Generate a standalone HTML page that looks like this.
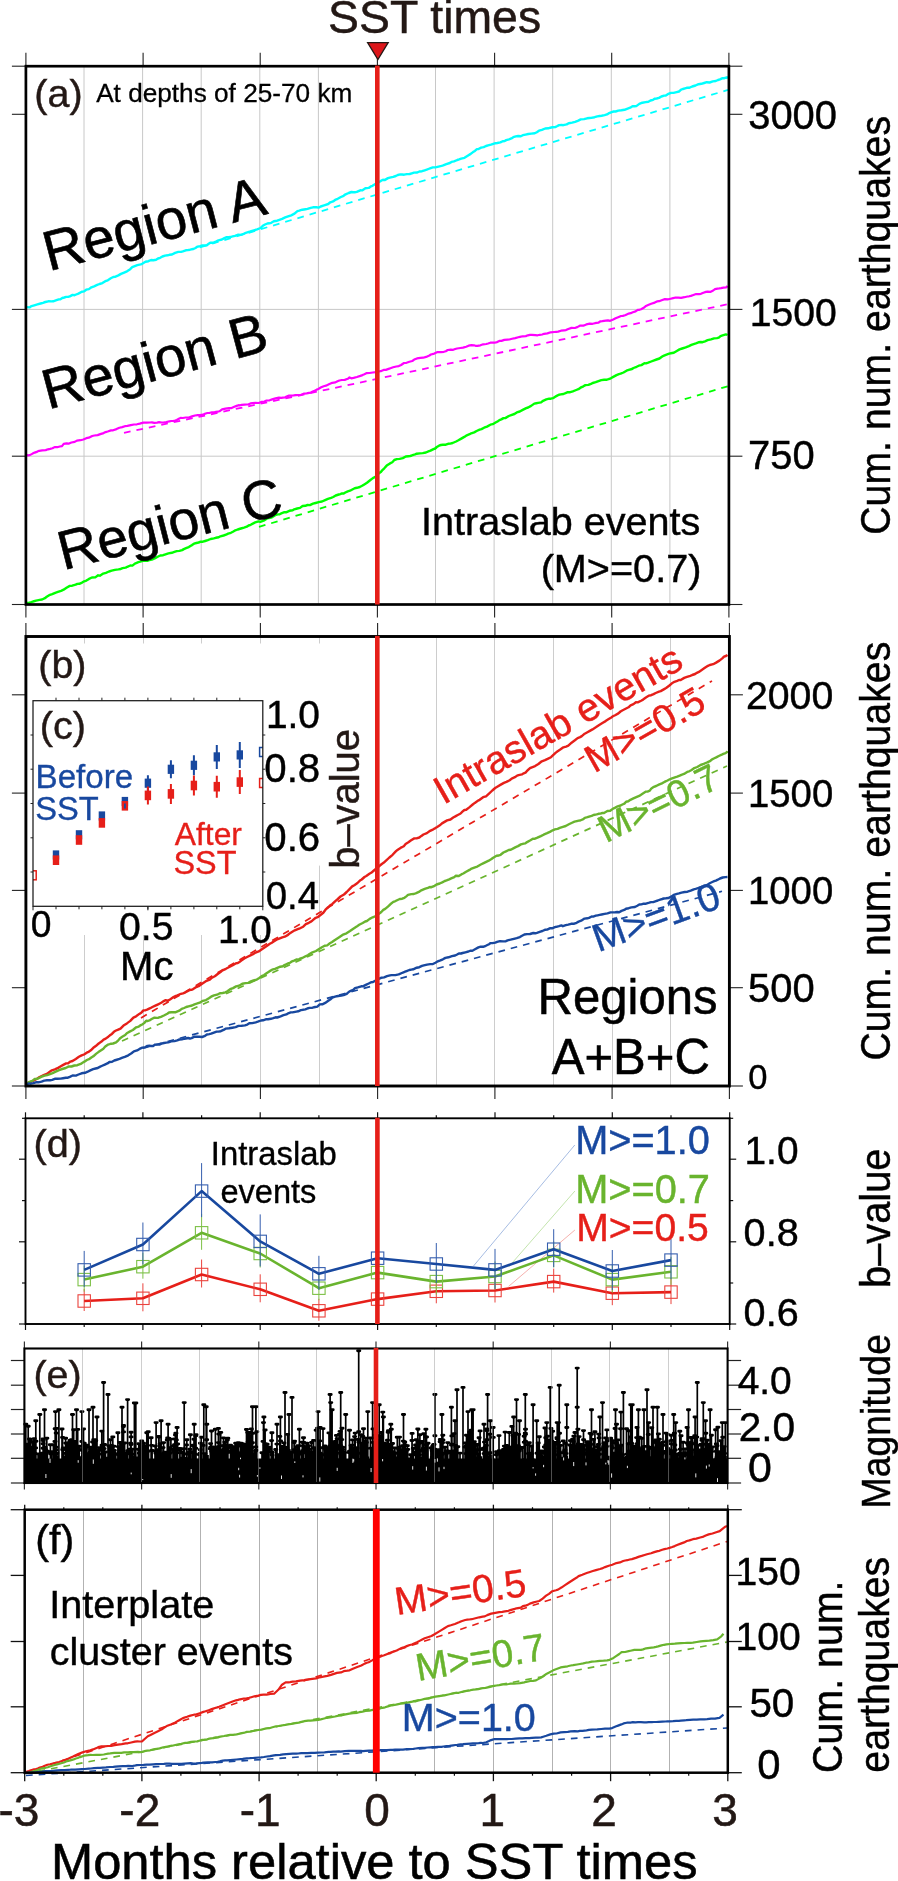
<!DOCTYPE html>
<html><head><meta charset="utf-8"><title>SST times figure</title>
<style>html,body{margin:0;padding:0;background:#fff}svg{display:block;will-change:transform}</style></head>
<body>
<svg width="898" height="1881" viewBox="0 0 898 1881" font-family='"Liberation Sans", sans-serif'>
<rect width="898" height="1881" fill="#fff"/>
<line x1="84" y1="66.2" x2="84" y2="604.5" stroke="#c8c8c8" stroke-width="1"/>
<line x1="142.6" y1="66.2" x2="142.6" y2="604.5" stroke="#c8c8c8" stroke-width="1"/>
<line x1="201.2" y1="66.2" x2="201.2" y2="604.5" stroke="#c8c8c8" stroke-width="1"/>
<line x1="259.8" y1="66.2" x2="259.8" y2="604.5" stroke="#c8c8c8" stroke-width="1"/>
<line x1="318.4" y1="66.2" x2="318.4" y2="604.5" stroke="#c8c8c8" stroke-width="1"/>
<line x1="435.5" y1="66.2" x2="435.5" y2="604.5" stroke="#c8c8c8" stroke-width="1"/>
<line x1="494.1" y1="66.2" x2="494.1" y2="604.5" stroke="#c8c8c8" stroke-width="1"/>
<line x1="552.7" y1="66.2" x2="552.7" y2="604.5" stroke="#c8c8c8" stroke-width="1"/>
<line x1="611.3" y1="66.2" x2="611.3" y2="604.5" stroke="#c8c8c8" stroke-width="1"/>
<line x1="669.9" y1="66.2" x2="669.9" y2="604.5" stroke="#c8c8c8" stroke-width="1"/>
<line x1="25.9" y1="309.4" x2="728.9" y2="309.4" stroke="#c8c8c8" stroke-width="1"/>
<line x1="25.9" y1="456.2" x2="728.9" y2="456.2" stroke="#c8c8c8" stroke-width="1"/>
<line x1="200" y1="247.3" x2="728" y2="89.9" stroke="#00ffff" stroke-width="1.8" stroke-dasharray="6.7 6"/>
<line x1="124" y1="432.8" x2="728" y2="304.1" stroke="#ff00ff" stroke-width="1.8" stroke-dasharray="6.7 6"/>
<line x1="259" y1="526.9" x2="728" y2="386.2" stroke="#00ff00" stroke-width="1.8" stroke-dasharray="6.7 6"/>
<polyline points="26.5,307.1 29.5,307.4 31.5,306.1 34.3,305.3 37.4,304.4 40.6,303.5 43,302.8 45.3,302 48.3,301.3 51.6,301.4 53.2,301.3 56.5,300.2 58.8,299.4 60.4,299.2 62.3,298 64.3,297.5 66.2,296.9 68.3,296.7 69.8,296.4 72.6,294.9 74.5,295.2 76.2,294.5 78.4,293.6 81.8,291.8 84.1,291.4 86.2,289.7 88.9,289.1 91.4,287.3 94.1,286.3 97.2,284.9 99.5,284 102.4,283.1 105.3,281.2 107.8,280.3 110.8,278.3 113.3,277 114.9,276.9 118.4,275.4 121,273.9 123.5,272.8 127,271.3 130.2,269.2 132.2,267.2 134.8,266.1 137.3,265.1 140.7,264.3 142.2,263.8 145.5,261.8 148.4,261.2 151.1,260 153.4,260.2 156.1,259.7 158,258.5 160.2,257.8 162.4,256.5 165.1,255.6 167.5,255.3 169.4,254.8 172,254.5 175.1,252.9 178.3,251.9 181.1,251.9 182.8,251.4 185.8,250.3 187.8,250.1 190,249.7 191.6,249.3 193.4,249 195.5,248 197.6,246.6 200.1,246.2 202.4,245.4 204.3,245.5 206.8,245.2 208.7,243.8 210.3,242.7 211.8,242.7 213.6,242.7 216.5,241.4 218.5,240.3 221.9,239.5 223.9,238.4 226.7,237.2 228.8,237.1 231.6,236.7 235,235.9 238.3,234.7 240.4,234.9 243.8,233.9 245.8,232.8 247.3,232.4 250.4,231.5 253.9,230.3 257.1,229.3 260.5,228 262.8,225.8 265,224.5 267.4,223.5 269.2,223.3 271.3,222.8 273.8,221.3 277.1,220.7 278.7,220.1 282.1,218.9 285.2,217.4 288.1,216.4 291.2,215.3 294.5,213.7 297.4,211.1 299.3,210.6 302.3,209.7 305.6,209.2 307.5,208.9 310.7,207.8 313,207.3 316.2,207.2 318.9,207.6 320.7,206.5 323.3,205.6 324.9,205.1 328.2,204 330.3,202.3 333.1,201.4 335.7,199.6 337.7,198.8 340.9,197 343.6,195.8 345.6,194.3 348.7,193 351.5,192 353.2,192.2 354.8,192.2 356.8,191.9 358.5,191.1 360.3,190.3 362.1,190.4 365.4,188.2 368.7,187.9 370.8,186.4 372.5,185.8 375.3,184 378.7,182.2 380.8,180.9 383,179.8 384.6,180.1 388,178.1 389.8,177.6 393.2,176.8 395.8,176 397.8,175 400.4,174.4 402.1,174.5 404.1,174.7 406.9,174.1 409.7,174 411.8,173.3 414,172.6 417.3,172.5 419.4,171.5 422,171.2 424.7,170.3 426.7,169.7 428.4,169 430,168.4 432.8,167.4 435.3,167.4 438.5,166.6 441.6,165.9 443.2,165.4 446.3,164.1 449.8,163 451.5,161.9 454,161.4 457.3,160 459.1,159.4 461.2,158.6 464.5,157.8 467.7,155.7 470.7,153.9 473,152.1 474.9,150.9 476.9,149.1 478.5,149 481.1,147.6 483.7,147.1 486,146 488.1,145.4 490.9,144.7 493.3,143.9 495.5,143.2 497.3,143 500.4,142.4 502.7,141.2 504.7,141 506.2,140.1 509,139.3 511.4,138.4 513.3,137.2 515.8,136.4 518.2,136 520.8,136.3 522.8,135.2 525.6,134.6 528.2,134 531.4,133.6 534.7,133.3 536.8,132.2 539,130.7 541.9,129.9 545.2,128.5 548.4,128.3 550.3,127.7 552.3,127.3 555.3,127.1 556.9,126.3 559.1,125.1 561.6,124.9 563.2,125.2 566.7,124.4 568.7,123.2 572.1,122.6 575.1,121.8 578.3,120.6 580.7,119.4 584,119.1 587.1,118.3 589.5,118 591.2,117.9 594.6,117.2 597.3,116.4 599.6,116 601.6,115.7 604.6,115.1 607,114.4 608.5,113.4 611.7,112.1 613.6,111.5 615.6,111.5 618.3,110.6 621.4,110.3 624.5,109.8 627,108.8 630.2,107.7 632.5,106.3 634.5,106.3 636.3,106.1 639.3,103.9 642.3,102.7 645.7,102.1 648.4,101.7 650.5,100.5 653.1,99.8 654.6,98.8 656.7,98.5 659,97.9 661.4,96.5 664.2,95.6 665.8,95.5 667.8,94.2 671,92.9 673.5,92.9 676.7,92.1 679,91.5 681.1,89.7 682.9,89 685.1,88.3 686.7,87.8 689,87.8 692.2,86.5 695.5,85.5 698.5,84.2 701.3,83.8 704.1,83 706.8,82.2 709.6,82.5 712.8,81.4 715.8,81 718,80 720,79.4 722.6,78.1 724.4,78.2 726.9,77.3 727.5,78.8" fill="none" stroke="#00ffff" stroke-width="2.4" stroke-linejoin="round"/>
<polyline points="26.5,455.1 28.1,455.3 29.8,455.1 32.6,453.6 34.7,452.6 37.4,451.6 39.2,450.8 42.2,450.4 45.7,450.1 48,449.3 50.1,448.9 52.5,448.3 54.6,447.1 57.2,447.2 59.8,446.5 62,446.1 63.7,443.9 66.6,443.3 68.5,443.7 71.4,442.5 74.7,441.9 76.9,440.6 80.4,440.2 83.4,439.5 86.3,438.2 88.8,437.7 92.2,436 94.4,435.5 97.6,435.1 100.3,434.1 103.6,433.1 105.6,432.1 107.7,431.5 111,430.4 113.1,430.3 116.5,429.1 119.4,427.8 122.2,427.1 124.9,426.2 127.4,425.9 130.8,425.1 133.9,424.5 136.9,424.3 139.8,423.6 141.5,423.1 143.4,422.6 146.7,422.6 149.9,422.5 151.9,422.4 154.2,422.8 157.1,422.6 159,422.2 161.8,422.5 163.4,422.5 166.3,422.1 169.5,421.3 171.3,421 173.6,420.9 175.1,420.6 176.7,420 178.9,418.8 180.6,417.9 182.8,418 185.8,417.5 188.8,417.5 192,416.4 195,415.5 197.8,415.1 199.9,415.1 203.2,414.7 204.9,413.8 207.4,413 209.2,413 211.9,412.3 214.3,412.3 216.1,411.9 217.7,411.7 219.4,411.3 222.1,409.3 225.5,408.6 229,408.1 231,408.2 233.7,407 236.6,405.9 238.6,405.2 240.1,405.3 241.7,404.9 244.6,404.6 246.6,404.5 248.6,404.3 250.5,403.4 252.6,403 255.4,402.8 258.8,403 261.8,401.8 264.5,401.5 266.1,400.6 267.9,400.5 269.6,400.3 272.2,399.4 275.5,398.4 279,397.6 281.2,397.9 282.9,397.6 285,397.5 286.6,396.5 289,395.6 290.9,395.6 293.6,395.4 295.8,395.1 299.2,395 301.1,394.8 303.7,393.7 306.7,393.4 309,392.9 310.7,392.6 313.9,391.1 316.7,389.6 318.3,389 321.2,387.3 323.7,386.2 326.8,385.4 328.9,384.2 332.3,382.8 335.4,382.4 337.5,381.3 339.4,380.5 341.8,380 344.7,379.9 347.8,378.8 349.5,377.4 351.3,378.3 353.6,377.9 356.9,377 360.4,375.9 362.5,375.1 364.4,374.3 366.8,373.1 369.4,373 372.8,372.5 375.8,372.1 378.7,371.5 380.7,371.2 383.6,369.9 385.9,369.9 388.6,368.9 390.4,368.2 393.1,367.3 396.3,366.5 398.8,366.1 401.1,365 404,363 406.5,362.8 409.4,361.8 412.3,361 414.2,359.6 417,358.4 420.4,357.9 423.2,357.7 426.1,356.9 429.4,355.5 430.9,354.5 434.3,353.6 437.6,352.1 440.9,352.1 443.9,351.8 445.8,351.2 447.7,350 450.8,349.7 453.2,349.8 455.2,349 457.1,348.5 460.5,348 463,347.6 466.2,346.7 468.6,345.7 471.5,345.2 474,345.3 475.5,345.8 477.4,345.8 480.4,345.3 483.2,344.3 486.3,344 488.1,343.5 490.4,342.7 491.9,342.6 494.5,342.7 497.1,342.1 499.4,340.9 501.5,340.9 504.3,339.9 507.6,339.6 509.3,339.5 512.1,338.8 515.2,338.1 518.3,337.3 520,336.9 522.6,336.3 525.8,336.1 527.9,335.3 529.9,334.9 531.9,334.8 535.3,335.1 537.6,335.3 539.8,334.8 542.2,334.5 544.1,333.8 547.4,333.4 550.7,332.3 554.1,332 556.2,331.8 558.1,331.6 561,330.7 564.1,330.3 566,330.1 568.3,329 571.5,327.9 574.8,328 577.3,327.1 580.3,325.5 583.3,325.7 586.3,324.4 589.8,323.7 592.6,323.8 594.9,323.2 598.3,322.7 600.5,321.3 602.3,321.2 605.8,320.7 608,320.4 610.2,320.8 613.2,319.5 615.6,318.2 618.8,316.9 621,316 622.8,315.9 625,315.2 626.7,314.4 628.7,313.6 630.7,313.2 632.8,312.3 635.6,311.4 637.7,309.9 639.4,309.8 641.1,309.2 644.2,307.5 646,305.9 648.1,305 651.2,303.7 654.7,302.6 657,301.4 659.1,301.2 662.3,300 664.9,299.1 668.3,299.3 670.7,298.7 673.1,298.1 674.8,297.7 678.3,297.7 681.1,297.8 684.4,297.2 687.5,296.5 689.1,296.3 690.9,295.9 692.7,295.2 696.1,294 698.9,294.2 700.9,293.8 703.4,292.7 705.9,291.9 707.5,291.7 710.7,291.8 713.2,290.5 715,289.1 717.5,288.6 719.2,288.4 721.1,288.1 723.4,287.6 726.1,287.5 727.5,286" fill="none" stroke="#ff00ff" stroke-width="2.2" stroke-linejoin="round"/>
<polyline points="26.5,603 28.7,603 31.4,602.1 33,601.5 36.1,600.6 39.6,599.9 42.1,599.5 44.9,598.2 46.7,596.8 49.2,595.2 52.2,594.1 55.2,592.8 57.9,591.9 61.1,590.8 63.6,589.7 66.5,587.7 69.8,585.9 72.2,585.7 75.6,584.7 77.4,583.9 79.3,583.8 82.1,582.6 84.2,581.3 86.4,580.6 89,578.9 91.9,577.5 95.3,577.4 98.1,575.3 99.9,575.7 103.2,573.6 105.9,572.8 109,571.5 111.7,570.7 114.9,569.9 118.4,569.4 120.7,569 122.5,568.1 125.7,567.6 127.3,566.8 130.3,565.5 132.4,565.6 134.9,563.6 138.4,562.2 141.1,561.4 142.7,560.9 145.4,560.5 147.2,560.8 149.4,560.2 152.8,559.3 155.2,558.1 157.7,556.8 160.3,555.5 163.1,555.2 165.5,554.3 168.4,553.4 171.8,552.8 174.4,551.9 176.7,551.1 179.4,550.9 182.1,550.1 183.8,549.1 186.6,547.9 188.8,547.1 190.4,546 192,545.1 194,543.7 196.4,543 198.6,542.5 200.8,541.7 202.9,541.7 205.1,541 207.8,540.1 210.7,539 213.8,538.3 215.8,537.8 218.7,537.2 220.4,536.3 223.6,535.5 226,534.7 228.1,533.6 230.9,532.8 232.9,531.7 234.6,530.7 237.7,529.5 240.9,528.5 244,527.6 246.8,526.7 248.6,525.5 250.7,524.8 252.8,523.6 255.2,522.4 258.5,521.4 260.3,521.9 263.6,520.7 267.1,518.4 270.4,517.8 272.4,517.1 275.2,515.2 277.7,514.4 279.7,514.2 281.3,513.4 284.4,512.2 286,512.3 289.4,510.8 292.7,510.2 294.2,509.3 297.2,508.5 300,507.9 302.6,506 305.3,505.8 307.5,505 309.9,505.1 313,503.7 315.6,503 318.7,502.1 322,501.5 325.1,500.1 327.9,498.9 331.1,497.9 333.2,497 335.7,495.5 338.8,494.5 340.3,494.1 342,493.4 343.7,493.5 345.3,492.5 347.8,491.3 350,490.7 352.8,489.2 354.7,488.2 356.9,487.8 359.8,487 362.1,485.8 364.3,484.4 367,482.7 370.1,480.2 372.9,478.1 375.4,476.8 378.3,473.8 380.7,472.1 382.7,469.8 384.3,468.3 386.7,465.6 390,463.4 392.3,462.2 394.3,460 396.8,459.1 399.6,458.9 402.8,458.1 405.8,456.5 408.4,456.2 410,456.1 411.7,455.5 413.4,454.8 415.1,454.4 416.7,453.7 419.9,453.4 422.7,453.1 425.9,452.5 429,451.2 430.5,450.6 433.5,449.1 435.2,448.5 436.8,447 439,445.7 440.9,445 442.8,444.7 445.8,444.7 448.1,443.8 450.3,443.6 452.6,443 456.1,441.5 458.4,440.3 461.3,438.6 464.3,436.9 466.8,435.3 469.6,434.2 471.2,433.3 474.2,432.4 476.6,431 479.6,429.7 481.5,429.1 484.1,427.7 487,426.6 490.4,424.7 492.7,424.2 496,422.3 497.9,421.2 499.4,420.1 501.3,419.4 503.5,418.1 505.3,418.1 508.8,416 511.2,415.1 514.4,414 516.8,412.4 519.8,411.5 522.7,409.9 526.2,408.2 528.1,407.5 531.1,405.9 534.3,403.6 536.3,403.2 538.1,402.9 541.1,402.4 543.1,400.8 546.3,399.4 549.2,398.7 550.9,398.7 553,398.2 555.2,396.8 556.7,395.9 558.9,394.7 560.8,394.4 563.5,394 566.1,392.9 567.8,392.2 569.5,392.3 572.8,391.3 576.2,390 578.4,389.2 580.5,387.7 583.4,386.3 585.4,385.1 588.4,384.9 591,383.9 592.7,383 595.7,382.2 598.5,381.1 601.3,380.1 604.1,379.7 606.9,379.7 608.6,379.2 610.8,378.3 613.7,376.6 616.5,375.1 618.9,374.1 620.6,373.7 623.5,372.5 626.5,370.7 628.7,369.9 632,369 633.5,368 636.6,366.8 638.8,365.7 641.4,365.1 644.4,363.3 646.1,363.4 648.2,362.7 651.2,361.5 654.2,360.3 656.5,359.5 659.5,358.5 662.2,356.5 664,355.6 666.5,354.7 669.2,353.7 672.2,353 673.8,352.7 677.2,350.7 679.5,349.4 682.2,348.5 685.7,347.4 688.9,346.1 691.4,344.9 692.9,344.3 695.9,343.3 698.5,342.3 700.9,342 702.5,342.2 705,341.3 707.6,340.2 711,339.4 714.1,338.4 716.9,338.1 718.8,337.6 720.5,336.1 722.6,335.4 725.9,334.4 727.5,335" fill="none" stroke="#00ff00" stroke-width="2.4" stroke-linejoin="round"/>
<line x1="25.9" y1="66.2" x2="25.9" y2="52.7" stroke="#222" stroke-width="1.1"/>
<line x1="25.9" y1="604.5" x2="25.9" y2="617.5" stroke="#222" stroke-width="1.1"/>
<line x1="143.1" y1="66.2" x2="143.1" y2="52.7" stroke="#222" stroke-width="1.1"/>
<line x1="143.1" y1="604.5" x2="143.1" y2="617.5" stroke="#222" stroke-width="1.1"/>
<line x1="260.2" y1="66.2" x2="260.2" y2="52.7" stroke="#222" stroke-width="1.1"/>
<line x1="260.2" y1="604.5" x2="260.2" y2="617.5" stroke="#222" stroke-width="1.1"/>
<line x1="377.4" y1="66.2" x2="377.4" y2="52.7" stroke="#222" stroke-width="1.1"/>
<line x1="377.4" y1="604.5" x2="377.4" y2="617.5" stroke="#222" stroke-width="1.1"/>
<line x1="494.6" y1="66.2" x2="494.6" y2="52.7" stroke="#222" stroke-width="1.1"/>
<line x1="494.6" y1="604.5" x2="494.6" y2="617.5" stroke="#222" stroke-width="1.1"/>
<line x1="611.7" y1="66.2" x2="611.7" y2="52.7" stroke="#222" stroke-width="1.1"/>
<line x1="611.7" y1="604.5" x2="611.7" y2="617.5" stroke="#222" stroke-width="1.1"/>
<line x1="728.9" y1="66.2" x2="728.9" y2="52.7" stroke="#222" stroke-width="1.1"/>
<line x1="728.9" y1="604.5" x2="728.9" y2="617.5" stroke="#222" stroke-width="1.1"/>
<line x1="25.9" y1="66.2" x2="11.9" y2="66.2" stroke="#222" stroke-width="1.1"/>
<line x1="728.9" y1="66.2" x2="742.4" y2="66.2" stroke="#222" stroke-width="1.1"/>
<line x1="25.9" y1="114.3" x2="11.9" y2="114.3" stroke="#222" stroke-width="1.1"/>
<line x1="728.9" y1="114.3" x2="742.4" y2="114.3" stroke="#222" stroke-width="1.1"/>
<line x1="25.9" y1="309.4" x2="11.9" y2="309.4" stroke="#222" stroke-width="1.1"/>
<line x1="728.9" y1="309.4" x2="742.4" y2="309.4" stroke="#222" stroke-width="1.1"/>
<line x1="25.9" y1="456.2" x2="11.9" y2="456.2" stroke="#222" stroke-width="1.1"/>
<line x1="728.9" y1="456.2" x2="742.4" y2="456.2" stroke="#222" stroke-width="1.1"/>
<line x1="25.9" y1="604.5" x2="11.9" y2="604.5" stroke="#222" stroke-width="1.1"/>
<line x1="728.9" y1="604.5" x2="742.4" y2="604.5" stroke="#222" stroke-width="1.1"/>
<rect x="25.9" y="66.2" width="703" height="538.3" fill="none" stroke="#000" stroke-width="2.7"/>
<rect x="375" y="65.6" width="4.6" height="538.9" fill="#e61f19"/>
<polygon points="367.6,42.6 388.2,42.6 377.9,59.6" fill="#dc161a" stroke="#231815" stroke-width="1.3" stroke-linejoin="miter"/>
<text transform="translate(330.2 33.4)" x="-2.09" y="0" font-size="46.36" fill="#231815" stroke="#231815" stroke-width="0.51">SST times</text>
<text transform="translate(36.7 107.3)" x="-2.47" y="0" font-size="39.55" fill="#231815" stroke="#231815" stroke-width="0.43">(a)</text>
<text transform="translate(96.2 101.7)" x="-0.07" y="0" font-size="26.20" fill="#000" stroke="#000" stroke-width="0.29">At depths of 25-70 km</text>
<text transform="translate(53.2 270) rotate(-14.65)" x="-4.63" y="0" font-size="56.10" fill="#000" stroke="#000" stroke-width="0.62">Region A</text>
<text transform="translate(52.5 408.2) rotate(-15.00)" x="-4.63" y="0" font-size="56.10" fill="#000" stroke="#000" stroke-width="0.62">Region B</text>
<text transform="translate(67.6 569.1) rotate(-14.30)" x="-4.54" y="0" font-size="54.98" fill="#000" stroke="#000" stroke-width="0.60">Region C</text>
<text transform="translate(424.6 534.9)" x="-3.66" y="0" font-size="39.60" fill="#000" stroke="#000" stroke-width="0.44">Intraslab events</text>
<text transform="translate(543.1 582.2)" x="-2.48" y="0" font-size="39.64" fill="#000" stroke="#000" stroke-width="0.44">(M&gt;=0.7)</text>
<text transform="translate(749.7 129.4)" x="-1.50" y="0" font-size="39.91" fill="#000" stroke="#000" stroke-width="0.44">3000</text>
<text transform="translate(752.7 325.8)" x="-2.94" y="0" font-size="39.19" fill="#000" stroke="#000" stroke-width="0.43">1500</text>
<text transform="translate(750.1 469.2)" x="-2.00" y="0" font-size="39.94" fill="#000" stroke="#000" stroke-width="0.44">750</text>
<text transform="translate(890.4 532.8) rotate(-90.00) scale(1 1.07)" x="-1.96" y="0" font-size="39.26" fill="#000" stroke="#000" stroke-width="0.43">Cum. num. earthquakes</text>
<line x1="84.5" y1="636.5" x2="84.5" y2="1086" stroke="#cdcdcd" stroke-width="1"/>
<line x1="143.5" y1="636.5" x2="143.5" y2="1086" stroke="#cdcdcd" stroke-width="1"/>
<line x1="201.5" y1="636.5" x2="201.5" y2="1086" stroke="#cdcdcd" stroke-width="1"/>
<line x1="260.5" y1="636.5" x2="260.5" y2="1086" stroke="#cdcdcd" stroke-width="1"/>
<line x1="319.5" y1="636.5" x2="319.5" y2="1086" stroke="#cdcdcd" stroke-width="1"/>
<line x1="436.5" y1="636.5" x2="436.5" y2="1086" stroke="#cdcdcd" stroke-width="1"/>
<line x1="494.5" y1="636.5" x2="494.5" y2="1086" stroke="#cdcdcd" stroke-width="1"/>
<line x1="553.5" y1="636.5" x2="553.5" y2="1086" stroke="#cdcdcd" stroke-width="1"/>
<line x1="612.5" y1="636.5" x2="612.5" y2="1086" stroke="#cdcdcd" stroke-width="1"/>
<line x1="670.5" y1="636.5" x2="670.5" y2="1086" stroke="#cdcdcd" stroke-width="1"/>
<line x1="141" y1="1018" x2="712" y2="680.9" stroke="#e61f19" stroke-width="1.7" stroke-dasharray="6.7 6"/>
<line x1="122" y1="1041.1" x2="727" y2="766.1" stroke="#69b42e" stroke-width="1.7" stroke-dasharray="6.7 6"/>
<line x1="143" y1="1048.2" x2="722" y2="891.3" stroke="#18489f" stroke-width="1.7" stroke-dasharray="6.7 6"/>
<polyline points="26.5,1083.4 28.8,1082.5 30.6,1081.9 33.9,1080.4 37,1078.7 39.6,1077 41.7,1076 43.6,1075.2 46.9,1073.9 50.1,1071.5 51.9,1070.3 54.9,1069.4 58.1,1067.9 60.8,1066.3 63.7,1064.6 66.1,1063.4 67.8,1063.4 70.4,1061.6 72.5,1061 75.8,1058.9 78.9,1056.8 81.6,1055.4 84,1054.5 87.1,1052.4 88.7,1051.8 90.8,1050.3 93.3,1047.8 96.8,1045.2 98.7,1043.5 101.5,1041.6 103.6,1039.6 105.7,1038.6 108.3,1036.7 109.9,1035.3 111.9,1033.9 113.9,1031.8 116,1030.5 117.6,1029.9 120.5,1028.6 123.5,1025.6 126.9,1023.4 130.3,1020.9 133.4,1017.6 136.1,1016.3 139.3,1013.9 141.6,1012.4 143.4,1010.4 145.6,1010.2 147.1,1009.7 150.2,1008.2 152.4,1007 155.9,1005.4 158.2,1004.3 159.8,1003.5 161.7,1002.5 163.2,1001.4 165.7,1000.2 167.5,1000.9 170,999.5 173.5,997.1 176,995.8 177.5,995.4 179.9,994.2 183,993.4 185.5,992.3 187.5,991.2 189.4,990.1 191.2,989.9 192.8,989.3 196.3,987 198.6,986.2 201.7,984 204.7,982 206.6,980.8 209.8,979.7 212,977.7 214.8,976.3 218,973.8 220.5,972 222.5,970.4 225.9,968.8 229.3,967 232.8,965.1 236.1,963.2 237.8,963 239.4,962 241.3,960.6 244.3,958.5 247.6,956.8 251,955.1 252.5,954.5 255.6,952.6 258.7,951.4 261.9,949.2 263.8,947.9 267.1,945.7 270.2,943.5 271.7,942.9 273.3,941.7 276.5,939.7 279.2,938.6 282.3,937.3 284.8,936.7 288,934.9 289.6,933.4 292.7,931.5 294.8,930.3 298.3,928.9 300,928.3 303.2,926.7 305.8,924.2 308.8,922.8 310.4,921.9 312.5,920.4 315.7,917.8 317.6,917.2 320.8,914.7 323.3,912.7 325.5,909.7 328.4,907 329.9,905.5 332.4,903.9 335.3,901.1 337.3,899.5 340.5,896.5 344,894.5 346.7,892 348.8,889.9 352.2,886.4 354.3,885.2 357.5,883 359.9,880.6 361.7,879.5 364.5,877 366.3,876 369.4,873.8 371.2,872.8 373.9,870.5 376.1,868.7 378.4,866.7 381.8,864 383.9,862.6 386,860.7 389.4,857.5 392.6,854.8 396,851.1 397.8,849.7 400.5,847.9 403.8,846.2 405.6,844 408.4,842.3 411.1,840.3 414.3,838.4 416.6,838.4 419.3,837.5 421.4,835.9 423.4,834.5 426.9,833.1 430.1,830.8 433.3,829.3 435.4,828.1 437.2,827 439.8,825.3 442,823.4 445.4,821.4 447.1,820.4 450.5,819.5 453.2,817.5 455.3,816.4 457.3,815.2 460.6,813.5 462.4,811.7 464.4,810 466.2,809.8 469.3,807.4 472.7,804.5 474.8,802.9 476.5,801.7 478,800.6 479.7,799.8 483.1,797.2 486,796.3 489,793.6 492.3,790.5 495.2,788 498.1,786.2 500.8,784.6 503.9,782.9 506.4,781.9 509.7,780.2 511.7,778.6 514.9,777.2 517.1,775.6 518.6,775.1 521.9,774.4 523.7,773.3 525.5,772.6 527.4,770.5 530,768.2 531.9,767.3 535.1,766.1 538.4,764 541.8,761.3 545,760.1 547.6,758.9 551,757.2 553.1,755.2 555.8,752.6 557.3,751.5 560.6,749.3 563.4,747.3 566.1,746.6 568.3,745.7 571.6,742.7 574.9,740.3 577.6,738.1 580.1,737.1 581.8,736.1 584.7,733.7 587.4,732.2 589.4,731.1 592.5,729.4 595.8,727.3 599.2,725 602.4,723 605.6,721.1 608.3,719.3 611.3,717.4 612.9,716.3 615.1,715.2 618.4,713.4 620.5,711.5 622.7,710.2 625.1,709 628.5,707.3 630.6,705.3 633.5,704.1 635.9,702.2 637.7,702.4 641.1,700.7 643.1,699.6 645.9,697.6 649.1,695.6 651.1,695.2 653.6,694.1 655.7,693 659,691.6 660.7,691.1 664.2,689.1 666.1,688 669.4,685.5 671.9,683.3 673.7,682.2 677.2,680.9 679,680 680.7,680 684.2,677.9 687,676.9 690.3,675.8 692.2,675 695.1,674 696.9,672.8 698.9,671.9 701,670.5 704.5,668.1 708,665.8 709.8,665 713.2,664.2 716.1,662.6 719.4,660.6 722.3,658.4 724,656.7 725.9,656 727.5,654.9" fill="none" stroke="#e61f19" stroke-width="2.4" stroke-linejoin="round"/>
<polyline points="26.5,1084 29.6,1081.8 33,1080.5 34.5,1079 37,1078.9 40.3,1077.4 42,1076.5 44.6,1075.7 47.2,1075.1 49.3,1074.4 52.6,1073.1 55.7,1071.6 57.5,1070.8 59,1070.1 62.2,1069 65.7,1068 68.9,1066.4 71.5,1066.5 74.4,1065.5 77.3,1065.2 80.7,1063.9 82.9,1062.5 84.8,1061.4 86.9,1060 89.6,1058.8 91.7,1057.2 93.9,1055.9 96,1053.9 98.4,1052.1 101.9,1049.7 103.4,1048.7 105,1046.8 108.1,1044.6 109.6,1044.2 111.2,1043.7 113.1,1043.5 116.1,1042.4 118.3,1040.3 120.5,1037.9 122.2,1036.7 125.2,1035 126.8,1033.2 130.1,1031.4 132.9,1030 136.2,1027.3 138.8,1026.6 140.9,1025.1 142.6,1024.2 144.4,1022.9 146.2,1020.8 147.8,1021 150.1,1020.1 152.1,1018.8 154.5,1017.6 156.8,1017.9 158.4,1017.7 160.9,1016.8 163.9,1015.5 167.3,1013.7 169,1012.5 171.3,1012.3 173.4,1012.3 175.8,1012.2 179.3,1010.7 181.7,1008.9 184.1,1008 186.2,1007 188.5,1006.3 192,1005.5 194.5,1004.3 196.6,1003.7 199.7,1002.7 202.9,1000.8 206,1000.1 208.9,998.3 211.1,996.7 214,995.4 217.1,994.7 219.9,993.2 222.7,993 225.4,992.4 227.4,991.3 230.2,989.2 233,988.1 236.1,986.4 239.1,985.7 242.3,983.7 245.5,983.1 248.4,982.9 250.9,981.4 253.5,980.5 256.8,979.6 259.3,978 262.3,975.8 264.1,975 266.9,973 269.3,971.4 272.1,969.7 275,968.8 277.4,967.8 280.2,966.7 282.9,966.2 284.5,965.1 286.1,964.4 287.9,963.5 289.8,962.9 291.4,961.7 294.1,960.6 296.8,959.4 298.3,959.7 300.6,958.4 302.3,958 305.5,956.3 308.2,955 309.9,953.7 312.5,952.3 316,951 319.1,949 321.9,947.2 324.6,945.8 327.2,945.4 329.9,943.3 332.1,942 333.8,940.8 336.5,939 339.2,937.2 342.5,934.9 344.4,934.1 346.5,933.3 350,931.1 353.3,928.8 356.7,926.6 359.2,924.8 362.7,923 365.2,921.5 366.9,921 369.7,918.9 372.7,917.3 375.9,916 377.9,914.6 381.3,912 383.3,909.9 385.2,908.9 387.9,906.6 390.3,904.3 393.3,901.9 395,901.3 397.6,900 399.8,899 402.2,898.7 404.4,897.8 406,896.6 408,894.9 411.3,894.1 413.9,894 416.2,893.1 418.9,891.9 421.3,890.3 424.7,888.8 427.9,887.9 429.8,887 431.4,887.2 434.6,885.8 436.6,884.5 439.7,883.5 442.2,882.4 444.8,881 446.6,880.4 449.2,879.4 451.2,878.4 454.3,877.1 455.9,875.7 458.8,876 461.7,874.2 463.3,873.5 466.1,871.7 469.5,869.9 471.6,868.6 475,867.3 477.3,866.6 479.1,865.5 480.8,864.5 483.1,863.4 485.7,862.1 488.7,860.7 491.1,859.3 493.2,857.7 496.6,855.8 498.8,855.5 500.6,854.8 503.4,852.5 506,851.3 508.7,850 510.8,849.7 513.8,848.1 515.7,847.1 518,846.1 520.9,844.4 523.7,843.7 525.4,843.3 527.1,842.1 530.4,840.3 532.9,838.8 534.4,838.9 537.4,837.7 540.8,836.1 543.6,834.7 547.1,833.2 549.9,831.9 552.7,830.3 554.9,829.4 557.6,828.8 559.8,827.8 562.9,826.8 565.7,826 568.9,824.3 571.5,823 574.5,821.7 576.8,821.1 578.7,820.6 580.2,820.5 583.3,819.2 584.8,817.8 587.5,817.2 589.9,816.3 591.7,815.9 593.5,815 596.7,814.4 598.5,813.8 600.4,813.6 602.4,813 604,813 607.4,811 610.2,810.8 613.1,808.6 614.8,807.9 617.7,806.3 620.6,805.5 622.4,804.5 624.4,803.6 626.1,801.7 628.3,801.3 630.4,799.8 633.4,798.4 636.3,797.1 639.2,795.9 642.5,793.8 646,791.6 647.5,791.6 649.8,790.6 651.4,788.4 653.9,786.8 656.1,786 659.4,784.4 661.9,783.4 663.9,782.3 665.5,781.4 667.5,780.5 669.8,779.3 671.4,778.7 674.9,777.3 677.2,776.6 679.7,775.6 681.4,774.8 684,773.9 687.2,771.9 689.2,771.3 691.6,770 694.3,768.1 697.2,767 700.6,765 703.7,763.9 705.7,763 707.3,762.3 710.4,760.8 712.1,759.4 713.8,758.5 716.2,757.4 718.8,756 721.7,754.7 723.3,753.9 725.6,753.1 727.3,751.8 727.5,751.2" fill="none" stroke="#69b42e" stroke-width="2.4" stroke-linejoin="round"/>
<polyline points="26.5,1084.5 29,1083.4 31,1083.7 33.4,1083.2 36.5,1082.1 38.5,1082.3 41.6,1081.6 44.2,1080.6 47,1080.3 50.2,1080.2 52.2,1079.9 55.4,1078.6 57.5,1078.8 60.7,1078.6 63,1078.2 65.8,1077.7 67.9,1077.7 69.8,1076.9 72.6,1075.5 75.9,1075.6 78.5,1074.5 81.6,1073.3 85,1072.8 87.7,1071.7 89.8,1070.6 93.1,1069.1 95.6,1068.5 97.8,1068 99.7,1066.9 101.6,1066 104.8,1064.6 107.9,1063.2 109.4,1062 112.1,1061.7 114.3,1060.5 116,1060 119.5,1058.9 122.5,1057.7 124.8,1056.9 128.3,1055.3 131.5,1053.3 133.9,1051.4 137.1,1050.4 139.5,1048.9 142.4,1047.6 145.4,1047.1 147.5,1045.9 149.3,1045.8 150.9,1046 153.1,1046 155.1,1044.6 157.1,1044.6 159.4,1044.6 161.5,1043.7 163.9,1043 166.2,1042.6 168.3,1042.4 171.1,1041.4 174.5,1041.1 177.2,1040.3 179.4,1039.5 182.5,1039.2 185.8,1038.5 188.2,1038 189.9,1038.5 191.6,1038.1 194.5,1036.7 197.7,1036.8 199.4,1036.7 202.1,1037 204.4,1036.2 206.9,1034.5 209.3,1034.1 211.1,1033.7 213.9,1032.6 216.6,1031.6 218.3,1031.6 220.8,1031.2 224.1,1029.7 225.8,1028.6 229,1028.3 232.3,1027.7 235.6,1027.1 238.5,1025.9 241.6,1025.7 244.9,1025.4 247.3,1024.6 249.3,1023.3 252.3,1023.1 255.7,1022.3 257.8,1021.7 261,1020.5 263.1,1020.3 266.4,1019.1 268,1019.3 270.8,1018.8 273.3,1018.1 275.6,1017.3 277.2,1017.5 280.6,1016.3 283.5,1015.2 286.4,1014.4 288.2,1013.3 290.7,1012.4 292.3,1012.4 293.9,1012.1 296.4,1011.6 298.2,1011.3 300.9,1010.2 302.8,1009.8 305.4,1009.4 307.3,1008.5 309.4,1007.9 312.5,1007.7 315.1,1007 317.4,1006.6 319.7,1004.4 322.3,1004.3 325.2,1002.9 328.3,1000.8 330.5,999.3 332.3,997.6 335.1,996.6 336.7,996.3 339.7,995.7 341.4,995.5 343.6,995.1 346.7,993.9 348.7,992 350.7,990.8 353.2,989.8 355,988.2 357.8,987.4 361.3,986.3 362.9,986.4 365.8,984.9 368.7,983.5 371.1,982.2 373,982.1 376.1,980.2 378,979.2 381.1,977.8 384.1,977.4 387,976.2 390,975.4 391.6,975.1 393.8,975.1 395.4,975.1 398.7,974.4 401.9,973 403.5,972.3 405.1,971.7 406.6,971.1 409.3,970 411.3,969.6 413.2,969.3 416.7,967.7 419.3,967.2 422,965.9 423.8,965.4 427.1,964.6 430.2,964.1 432.9,964 435.4,962.7 437.1,961.7 440.4,960.4 442.9,959.3 445.4,957.9 448.5,957.3 451.9,956.2 455.1,955.5 457.1,954.5 458.9,953.4 461.1,953.5 462.6,953 465.4,952.3 468.4,951.5 470.7,950.6 472.4,950.7 475,949.3 478.4,947.4 480.8,946.6 483.1,946.8 485.8,945.8 489,944.2 490.6,943.1 492.4,943.1 495.3,942.6 497.1,941.9 500,941.1 503.1,941.4 505.9,941.2 507.6,940.4 510.6,939.7 513.9,938.8 516.7,938.1 519.9,937.1 521.6,936 524.4,934.5 527,934.1 530,934 533.3,933 535.3,933.3 536.9,932.8 540.4,931.6 542.4,931 545.4,929.7 547.1,929.6 550.3,928.1 552.1,928.3 554.9,927.1 556.4,926.8 559,926.2 561.4,925.4 562.9,926.2 565.8,925.2 568.2,924.6 571.1,923.8 574.2,923.7 576.6,922.8 578.6,921.6 581.2,920.7 584.5,918.6 587.4,918.3 589,917.9 591.7,916.5 593.2,916.6 595.8,915.7 597.7,915.3 599.6,914.9 601.7,914.5 604.6,913.9 607.5,913.4 610.5,912.4 613.2,912.4 615.4,912.3 617.3,912 619.2,912.2 621.5,910.9 624.3,909.9 626,908.7 628.7,908.2 631.4,907.4 634.9,907 637.3,905.7 639.3,904.5 641.4,904.4 643.7,903.7 646,903.7 649.3,902.7 651.1,902.1 653.2,902.1 656,901.1 657.8,900.5 660.2,899.6 662.2,899 663.7,898.5 666,898.3 668.6,898 671.6,896.4 673.7,894.9 677,893.9 679,893.4 681.5,892.6 684.7,892 687.5,891.7 690.7,890.6 693.8,889.3 695.6,888.9 698.1,888.2 699.7,887.4 701.5,887 703.2,886.6 705.3,885.7 707.7,884.5 710.2,883 712.3,882 714.2,881.2 715.9,880.6 717.8,879.7 720,878.5 722.7,877.5 725.4,877.1 727.5,877" fill="none" stroke="#18489f" stroke-width="2.4" stroke-linejoin="round"/>
<rect x="27.3" y="643.5" width="245" height="291.5" fill="#fff"/>
<rect x="272" y="643.5" width="100" height="222.1" fill="#fff"/>
<line x1="56" y1="700.7" x2="56" y2="697.7" stroke="#222" stroke-width="1.0"/>
<line x1="56" y1="906.3" x2="56" y2="909.3" stroke="#222" stroke-width="1.0"/>
<line x1="79" y1="700.7" x2="79" y2="697.7" stroke="#222" stroke-width="1.0"/>
<line x1="79" y1="906.3" x2="79" y2="909.3" stroke="#222" stroke-width="1.0"/>
<line x1="101.9" y1="700.7" x2="101.9" y2="697.7" stroke="#222" stroke-width="1.0"/>
<line x1="101.9" y1="906.3" x2="101.9" y2="909.3" stroke="#222" stroke-width="1.0"/>
<line x1="124.9" y1="700.7" x2="124.9" y2="697.7" stroke="#222" stroke-width="1.0"/>
<line x1="124.9" y1="906.3" x2="124.9" y2="909.3" stroke="#222" stroke-width="1.0"/>
<line x1="147.9" y1="700.7" x2="147.9" y2="697.7" stroke="#222" stroke-width="1.0"/>
<line x1="147.9" y1="906.3" x2="147.9" y2="909.3" stroke="#222" stroke-width="1.0"/>
<line x1="170.9" y1="700.7" x2="170.9" y2="697.7" stroke="#222" stroke-width="1.0"/>
<line x1="170.9" y1="906.3" x2="170.9" y2="909.3" stroke="#222" stroke-width="1.0"/>
<line x1="193.9" y1="700.7" x2="193.9" y2="697.7" stroke="#222" stroke-width="1.0"/>
<line x1="193.9" y1="906.3" x2="193.9" y2="909.3" stroke="#222" stroke-width="1.0"/>
<line x1="216.8" y1="700.7" x2="216.8" y2="697.7" stroke="#222" stroke-width="1.0"/>
<line x1="216.8" y1="906.3" x2="216.8" y2="909.3" stroke="#222" stroke-width="1.0"/>
<line x1="239.8" y1="700.7" x2="239.8" y2="697.7" stroke="#222" stroke-width="1.0"/>
<line x1="239.8" y1="906.3" x2="239.8" y2="909.3" stroke="#222" stroke-width="1.0"/>
<line x1="33" y1="735" x2="30.5" y2="735" stroke="#222" stroke-width="1.0"/>
<line x1="262.8" y1="735" x2="265.3" y2="735" stroke="#222" stroke-width="1.0"/>
<line x1="33" y1="769.2" x2="30.5" y2="769.2" stroke="#222" stroke-width="1.0"/>
<line x1="262.8" y1="769.2" x2="265.3" y2="769.2" stroke="#222" stroke-width="1.0"/>
<line x1="33" y1="803.5" x2="30.5" y2="803.5" stroke="#222" stroke-width="1.0"/>
<line x1="262.8" y1="803.5" x2="265.3" y2="803.5" stroke="#222" stroke-width="1.0"/>
<line x1="33" y1="837.8" x2="30.5" y2="837.8" stroke="#222" stroke-width="1.0"/>
<line x1="262.8" y1="837.8" x2="265.3" y2="837.8" stroke="#222" stroke-width="1.0"/>
<line x1="33" y1="872" x2="30.5" y2="872" stroke="#222" stroke-width="1.0"/>
<line x1="262.8" y1="872" x2="265.3" y2="872" stroke="#222" stroke-width="1.0"/>
<line x1="262.8" y1="906.3" x2="262.8" y2="910.3" stroke="#222" stroke-width="1.0"/>
<line x1="33" y1="906.3" x2="33" y2="910.3" stroke="#222" stroke-width="1.0"/>
<line x1="147.9" y1="906.3" x2="147.9" y2="910.3" stroke="#222" stroke-width="1.0"/>
<clipPath id="ci"><rect x="33" y="700.7" width="229.8" height="205.6"/></clipPath>
<g clip-path="url(#ci)">
<rect x="29.8" y="870.8" width="6.4" height="9" fill="none" stroke="#e61f19" stroke-width="1.5"/>
<rect x="52.8" y="850.4" width="6.4" height="9.2" fill="#18489f"/>
<rect x="52.8" y="855.4" width="6.4" height="9.6" fill="#e61f19"/>
<rect x="75.8" y="830.2" width="6.4" height="9.2" fill="#18489f"/>
<rect x="75.8" y="835.2" width="6.4" height="9.6" fill="#e61f19"/>
<rect x="98.7" y="811.4" width="6.4" height="9.2" fill="#18489f"/>
<rect x="98.7" y="818.1" width="6.4" height="9.6" fill="#e61f19"/>
<rect x="121.7" y="796.9" width="6.4" height="9.2" fill="#18489f"/>
<rect x="121.7" y="801" width="6.4" height="9.6" fill="#e61f19"/>
<line x1="147.9" y1="775.2" x2="147.9" y2="791.2" stroke="#18489f" stroke-width="2"/>
<rect x="144.7" y="778.6" width="6.4" height="9.2" fill="#18489f"/>
<line x1="147.9" y1="786.4" x2="147.9" y2="804.4" stroke="#e61f19" stroke-width="2"/>
<rect x="144.7" y="790.6" width="6.4" height="9.6" fill="#e61f19"/>
<line x1="170.9" y1="760.3" x2="170.9" y2="778.3" stroke="#18489f" stroke-width="2"/>
<rect x="167.7" y="764.7" width="6.4" height="9.2" fill="#18489f"/>
<line x1="170.9" y1="783.9" x2="170.9" y2="803.9" stroke="#e61f19" stroke-width="2"/>
<rect x="167.7" y="789.1" width="6.4" height="9.6" fill="#e61f19"/>
<line x1="193.9" y1="755.3" x2="193.9" y2="775.3" stroke="#18489f" stroke-width="2"/>
<rect x="190.7" y="760.7" width="6.4" height="9.2" fill="#18489f"/>
<line x1="193.9" y1="775.5" x2="193.9" y2="795.5" stroke="#e61f19" stroke-width="2"/>
<rect x="190.7" y="780.7" width="6.4" height="9.6" fill="#e61f19"/>
<line x1="216.8" y1="744.9" x2="216.8" y2="768.9" stroke="#18489f" stroke-width="2"/>
<rect x="213.6" y="752.3" width="6.4" height="9.2" fill="#18489f"/>
<line x1="216.8" y1="775.7" x2="216.8" y2="797.7" stroke="#e61f19" stroke-width="2"/>
<rect x="213.6" y="781.9" width="6.4" height="9.6" fill="#e61f19"/>
<line x1="239.8" y1="741.9" x2="239.8" y2="767.9" stroke="#18489f" stroke-width="2"/>
<rect x="236.6" y="750.3" width="6.4" height="9.2" fill="#18489f"/>
<line x1="239.8" y1="770.1" x2="239.8" y2="794.1" stroke="#e61f19" stroke-width="2"/>
<rect x="236.6" y="777.3" width="6.4" height="9.6" fill="#e61f19"/>
<rect x="259.6" y="747.5" width="6.4" height="9" fill="none" stroke="#18489f" stroke-width="1.5"/>
<rect x="259.6" y="778.5" width="6.4" height="9" fill="none" stroke="#e61f19" stroke-width="1.5"/>
<line x1="124.9" y1="803.5" x2="124.9" y2="808.5" stroke="#18489f" stroke-width="1.8"/>
</g>
<rect x="33" y="700.7" width="229.8" height="205.6" fill="none" stroke="#1a1a1a" stroke-width="1.25"/>
<text transform="translate(42.3 738.7)" x="-2.48" y="0" font-size="39.62" fill="#231815" stroke="#231815" stroke-width="0.44">(c)</text>
<text transform="translate(38.3 787.5)" x="-2.73" y="0" font-size="33.12" fill="#18489f" stroke="#18489f" stroke-width="0.36">Before</text>
<text transform="translate(36.7 819.7)" x="-1.47" y="0" font-size="32.65" fill="#18489f" stroke="#18489f" stroke-width="0.36">SST</text>
<text transform="translate(174.9 844.9)" x="-0.08" y="0" font-size="31.79" fill="#e61f19" stroke="#e61f19" stroke-width="0.35">After</text>
<text transform="translate(174.9 873.8)" x="-1.46" y="0" font-size="32.38" fill="#e61f19" stroke="#e61f19" stroke-width="0.36">SST</text>
<text transform="translate(32.3 936.9)" x="-1.49" y="0" font-size="37.28" fill="#000" stroke="#000" stroke-width="0.41">0</text>
<text transform="translate(120.6 940.4)" x="-1.57" y="0" font-size="39.16" fill="#000" stroke="#000" stroke-width="0.43">0.5</text>
<text transform="translate(220.8 942.8)" x="-2.90" y="0" font-size="38.67" fill="#000" stroke="#000" stroke-width="0.43">1.0</text>
<text transform="translate(123.4 980.1)" x="-3.31" y="0" font-size="40.08" fill="#000" stroke="#000" stroke-width="0.44">Mc</text>
<text transform="translate(268.8 727.5)" x="-2.92" y="0" font-size="38.90" fill="#000" stroke="#000" stroke-width="0.43">1.0</text>
<text transform="translate(265.9 781.8)" x="-1.61" y="0" font-size="40.23" fill="#000" stroke="#000" stroke-width="0.44">0.8</text>
<text transform="translate(265.9 851)" x="-1.61" y="0" font-size="40.23" fill="#000" stroke="#000" stroke-width="0.44">0.6</text>
<text transform="translate(267.3 909)" x="-1.53" y="0" font-size="38.34" fill="#000" stroke="#000" stroke-width="0.42">0.4</text>
<text transform="translate(358.6 866.2) rotate(-90.00)" x="-2.59" y="0" font-size="39.88" fill="#231815" stroke="#231815" stroke-width="0.44">b–value</text>
<line x1="25.9" y1="636.5" x2="25.9" y2="623" stroke="#222" stroke-width="1.1"/>
<line x1="25.9" y1="1086" x2="25.9" y2="1099" stroke="#222" stroke-width="1.1"/>
<line x1="143.2" y1="636.5" x2="143.2" y2="623" stroke="#222" stroke-width="1.1"/>
<line x1="143.2" y1="1086" x2="143.2" y2="1099" stroke="#222" stroke-width="1.1"/>
<line x1="260.4" y1="636.5" x2="260.4" y2="623" stroke="#222" stroke-width="1.1"/>
<line x1="260.4" y1="1086" x2="260.4" y2="1099" stroke="#222" stroke-width="1.1"/>
<line x1="377.6" y1="636.5" x2="377.6" y2="623" stroke="#222" stroke-width="1.1"/>
<line x1="377.6" y1="1086" x2="377.6" y2="1099" stroke="#222" stroke-width="1.1"/>
<line x1="494.9" y1="636.5" x2="494.9" y2="623" stroke="#222" stroke-width="1.1"/>
<line x1="494.9" y1="1086" x2="494.9" y2="1099" stroke="#222" stroke-width="1.1"/>
<line x1="612.1" y1="636.5" x2="612.1" y2="623" stroke="#222" stroke-width="1.1"/>
<line x1="612.1" y1="1086" x2="612.1" y2="1099" stroke="#222" stroke-width="1.1"/>
<line x1="729.4" y1="636.5" x2="729.4" y2="623" stroke="#222" stroke-width="1.1"/>
<line x1="729.4" y1="1086" x2="729.4" y2="1099" stroke="#222" stroke-width="1.1"/>
<line x1="25.9" y1="694.8" x2="11.9" y2="694.8" stroke="#222" stroke-width="1.1"/>
<line x1="729.4" y1="694.8" x2="742.9" y2="694.8" stroke="#222" stroke-width="1.1"/>
<line x1="25.9" y1="793.1" x2="11.9" y2="793.1" stroke="#222" stroke-width="1.1"/>
<line x1="729.4" y1="793.1" x2="742.9" y2="793.1" stroke="#222" stroke-width="1.1"/>
<line x1="25.9" y1="890.4" x2="11.9" y2="890.4" stroke="#222" stroke-width="1.1"/>
<line x1="729.4" y1="890.4" x2="742.9" y2="890.4" stroke="#222" stroke-width="1.1"/>
<line x1="25.9" y1="987.7" x2="11.9" y2="987.7" stroke="#222" stroke-width="1.1"/>
<line x1="729.4" y1="987.7" x2="742.9" y2="987.7" stroke="#222" stroke-width="1.1"/>
<line x1="25.9" y1="1086" x2="11.9" y2="1086" stroke="#222" stroke-width="1.1"/>
<line x1="729.4" y1="1086" x2="742.9" y2="1086" stroke="#222" stroke-width="1.1"/>
<rect x="25.9" y="636.5" width="703.5" height="449.5" fill="none" stroke="#000" stroke-width="2.9"/>
<rect x="375" y="635.9" width="4.6" height="450.1" fill="#e61f19"/>
<text transform="translate(40.8 678.1)" x="-2.46" y="0" font-size="39.36" fill="#231815" stroke="#231815" stroke-width="0.43">(b)</text>
<text transform="translate(446.7 803.2) rotate(-29.70)" x="-3.65" y="0" font-size="39.45" fill="#e61f19" stroke="#e61f19" stroke-width="0.43">Intraslab events</text>
<text transform="translate(597.1 771.9) rotate(-29.60)" x="-3.19" y="0" font-size="38.65" fill="#e61f19" stroke="#e61f19" stroke-width="0.43">M&gt;=0.5</text>
<text transform="translate(608.8 841.8) rotate(-26.00)" x="-3.14" y="0" font-size="38.07" fill="#69b42e" stroke="#69b42e" stroke-width="0.42">M&gt;=0.7</text>
<text transform="translate(601.2 951.2) rotate(-20.00)" x="-3.23" y="0" font-size="39.14" fill="#18489f" stroke="#18489f" stroke-width="0.43">M&gt;=1.0</text>
<text transform="translate(541.6 1014.4)" x="-4.05" y="0" font-size="49.09" fill="#000" stroke="#000" stroke-width="0.54">Regions</text>
<text transform="translate(551.8 1073.7)" x="-0.12" y="0" font-size="49.07" fill="#000" stroke="#000" stroke-width="0.54">A+B+C</text>
<text transform="translate(747.9 708.8)" x="-1.96" y="0" font-size="39.25" fill="#000" stroke="#000" stroke-width="0.43">2000</text>
<text transform="translate(750.9 807.1)" x="-2.87" y="0" font-size="38.29" fill="#000" stroke="#000" stroke-width="0.42">1500</text>
<text transform="translate(750.9 904.4)" x="-2.87" y="0" font-size="38.29" fill="#000" stroke="#000" stroke-width="0.42">1000</text>
<text transform="translate(749.7 1001.7)" x="-1.60" y="0" font-size="39.94" fill="#000" stroke="#000" stroke-width="0.44">500</text>
<text transform="translate(749.7 1089.3)" x="-1.38" y="0" font-size="34.55" fill="#000" stroke="#000" stroke-width="0.38">0</text>
<text transform="translate(890.4 1058.6) rotate(-90.00) scale(1 1.07)" x="-1.96" y="0" font-size="39.26" fill="#000" stroke="#000" stroke-width="0.43">Cum. num. earthquakes</text>
<line x1="473.5" y1="1266" x2="574.8" y2="1145" stroke="#7f9fd6" stroke-width="0.7"/>
<line x1="508.6" y1="1267" x2="574.9" y2="1191" stroke="#a9d98a" stroke-width="0.7"/>
<line x1="508.6" y1="1286.4" x2="574.9" y2="1230" stroke="#f08f8a" stroke-width="0.7"/>
<line x1="84.2" y1="1289" x2="84.2" y2="1311" stroke="#ea433d" stroke-width="1.0"/>
<line x1="142.9" y1="1283.3" x2="142.9" y2="1311.3" stroke="#ea433d" stroke-width="1.0"/>
<line x1="201.6" y1="1259.5" x2="201.6" y2="1287.5" stroke="#ea433d" stroke-width="1.0"/>
<line x1="260.2" y1="1274.3" x2="260.2" y2="1302.3" stroke="#ea433d" stroke-width="1.0"/>
<line x1="318.9" y1="1298.8" x2="318.9" y2="1320.8" stroke="#ea433d" stroke-width="1.0"/>
<line x1="377.6" y1="1286.1" x2="377.6" y2="1310.1" stroke="#ea433d" stroke-width="1.0"/>
<line x1="436.3" y1="1277.3" x2="436.3" y2="1303.3" stroke="#ea433d" stroke-width="1.0"/>
<line x1="495" y1="1276.5" x2="495" y2="1302.5" stroke="#ea433d" stroke-width="1.0"/>
<line x1="553.7" y1="1268.6" x2="553.7" y2="1292.6" stroke="#ea433d" stroke-width="1.0"/>
<line x1="612.3" y1="1279.2" x2="612.3" y2="1305.2" stroke="#ea433d" stroke-width="1.0"/>
<line x1="671" y1="1278.1" x2="671" y2="1304.1" stroke="#ea433d" stroke-width="1.0"/>
<polyline points="84.2,1301 142.9,1298.3 201.6,1274.5 260.2,1289.3 318.9,1310.8 377.6,1299.1 436.3,1291.3 495,1290.5 553.7,1281.6 612.3,1293.2 671,1292.1" fill="none" stroke="#e61f19" stroke-width="2.6" stroke-linejoin="round"/>
<rect x="78" y="1294.8" width="12.4" height="12.4" fill="none" stroke="#ea433d" stroke-width="1.1"/>
<rect x="136.7" y="1292.1" width="12.4" height="12.4" fill="none" stroke="#ea433d" stroke-width="1.1"/>
<rect x="195.4" y="1268.3" width="12.4" height="12.4" fill="none" stroke="#ea433d" stroke-width="1.1"/>
<rect x="254" y="1283.1" width="12.4" height="12.4" fill="none" stroke="#ea433d" stroke-width="1.1"/>
<rect x="312.7" y="1304.6" width="12.4" height="12.4" fill="none" stroke="#ea433d" stroke-width="1.1"/>
<rect x="371.4" y="1292.9" width="12.4" height="12.4" fill="none" stroke="#ea433d" stroke-width="1.1"/>
<rect x="430.1" y="1285.1" width="12.4" height="12.4" fill="none" stroke="#ea433d" stroke-width="1.1"/>
<rect x="488.8" y="1284.3" width="12.4" height="12.4" fill="none" stroke="#ea433d" stroke-width="1.1"/>
<rect x="547.5" y="1275.4" width="12.4" height="12.4" fill="none" stroke="#ea433d" stroke-width="1.1"/>
<rect x="606.1" y="1287" width="12.4" height="12.4" fill="none" stroke="#ea433d" stroke-width="1.1"/>
<rect x="664.8" y="1285.9" width="12.4" height="12.4" fill="none" stroke="#ea433d" stroke-width="1.1"/>
<line x1="84.2" y1="1265.6" x2="84.2" y2="1291.6" stroke="#7dc147" stroke-width="1.0"/>
<line x1="142.9" y1="1252.7" x2="142.9" y2="1278.7" stroke="#7dc147" stroke-width="1.0"/>
<line x1="201.6" y1="1213.8" x2="201.6" y2="1249.8" stroke="#7dc147" stroke-width="1.0"/>
<line x1="260.2" y1="1237.5" x2="260.2" y2="1267.5" stroke="#7dc147" stroke-width="1.0"/>
<line x1="318.9" y1="1274.2" x2="318.9" y2="1300.2" stroke="#7dc147" stroke-width="1.0"/>
<line x1="377.6" y1="1258.6" x2="377.6" y2="1284.6" stroke="#7dc147" stroke-width="1.0"/>
<line x1="436.3" y1="1266.6" x2="436.3" y2="1294.6" stroke="#7dc147" stroke-width="1.0"/>
<line x1="495" y1="1261.5" x2="495" y2="1289.5" stroke="#7dc147" stroke-width="1.0"/>
<line x1="553.7" y1="1241.4" x2="553.7" y2="1267.4" stroke="#7dc147" stroke-width="1.0"/>
<line x1="612.3" y1="1264.6" x2="612.3" y2="1292.6" stroke="#7dc147" stroke-width="1.0"/>
<line x1="671" y1="1256.8" x2="671" y2="1284.8" stroke="#7dc147" stroke-width="1.0"/>
<polyline points="84.2,1279.6 142.9,1266.7 201.6,1232.8 260.2,1253.5 318.9,1288.2 377.6,1272.6 436.3,1281.6 495,1276.5 553.7,1255.4 612.3,1279.6 671,1271.8" fill="none" stroke="#69b42e" stroke-width="2.6" stroke-linejoin="round"/>
<rect x="78" y="1273.4" width="12.4" height="12.4" fill="none" stroke="#7dc147" stroke-width="1.1"/>
<rect x="136.7" y="1260.5" width="12.4" height="12.4" fill="none" stroke="#7dc147" stroke-width="1.1"/>
<rect x="195.4" y="1226.6" width="12.4" height="12.4" fill="none" stroke="#7dc147" stroke-width="1.1"/>
<rect x="254" y="1247.3" width="12.4" height="12.4" fill="none" stroke="#7dc147" stroke-width="1.1"/>
<rect x="312.7" y="1282" width="12.4" height="12.4" fill="none" stroke="#7dc147" stroke-width="1.1"/>
<rect x="371.4" y="1266.4" width="12.4" height="12.4" fill="none" stroke="#7dc147" stroke-width="1.1"/>
<rect x="430.1" y="1275.4" width="12.4" height="12.4" fill="none" stroke="#7dc147" stroke-width="1.1"/>
<rect x="488.8" y="1270.3" width="12.4" height="12.4" fill="none" stroke="#7dc147" stroke-width="1.1"/>
<rect x="547.5" y="1249.2" width="12.4" height="12.4" fill="none" stroke="#7dc147" stroke-width="1.1"/>
<rect x="606.1" y="1273.4" width="12.4" height="12.4" fill="none" stroke="#7dc147" stroke-width="1.1"/>
<rect x="664.8" y="1265.6" width="12.4" height="12.4" fill="none" stroke="#7dc147" stroke-width="1.1"/>
<line x1="84.2" y1="1250.9" x2="84.2" y2="1286.9" stroke="#355eae" stroke-width="1.0"/>
<line x1="142.9" y1="1222.5" x2="142.9" y2="1264.5" stroke="#355eae" stroke-width="1.0"/>
<line x1="201.6" y1="1163.1" x2="201.6" y2="1217.1" stroke="#355eae" stroke-width="1.0"/>
<line x1="260.2" y1="1214.4" x2="260.2" y2="1266.4" stroke="#355eae" stroke-width="1.0"/>
<line x1="318.9" y1="1255.8" x2="318.9" y2="1289.8" stroke="#355eae" stroke-width="1.0"/>
<line x1="377.6" y1="1239.2" x2="377.6" y2="1275.2" stroke="#355eae" stroke-width="1.0"/>
<line x1="436.3" y1="1243" x2="436.3" y2="1283" stroke="#355eae" stroke-width="1.0"/>
<line x1="495" y1="1248.9" x2="495" y2="1288.9" stroke="#355eae" stroke-width="1.0"/>
<line x1="553.7" y1="1229.2" x2="553.7" y2="1267.2" stroke="#355eae" stroke-width="1.0"/>
<line x1="612.3" y1="1250" x2="612.3" y2="1290" stroke="#355eae" stroke-width="1.0"/>
<line x1="671" y1="1239.1" x2="671" y2="1279.1" stroke="#355eae" stroke-width="1.0"/>
<polyline points="84.2,1269.9 142.9,1244.5 201.6,1191.1 260.2,1241.4 318.9,1273.8 377.6,1258.2 436.3,1264 495,1269.9 553.7,1249.2 612.3,1271 671,1260.1" fill="none" stroke="#18489f" stroke-width="2.6" stroke-linejoin="round"/>
<rect x="78" y="1263.7" width="12.4" height="12.4" fill="none" stroke="#355eae" stroke-width="1.1"/>
<rect x="136.7" y="1238.3" width="12.4" height="12.4" fill="none" stroke="#355eae" stroke-width="1.1"/>
<rect x="195.4" y="1184.9" width="12.4" height="12.4" fill="none" stroke="#355eae" stroke-width="1.1"/>
<rect x="254" y="1235.2" width="12.4" height="12.4" fill="none" stroke="#355eae" stroke-width="1.1"/>
<rect x="312.7" y="1267.6" width="12.4" height="12.4" fill="none" stroke="#355eae" stroke-width="1.1"/>
<rect x="371.4" y="1252" width="12.4" height="12.4" fill="none" stroke="#355eae" stroke-width="1.1"/>
<rect x="430.1" y="1257.8" width="12.4" height="12.4" fill="none" stroke="#355eae" stroke-width="1.1"/>
<rect x="488.8" y="1263.7" width="12.4" height="12.4" fill="none" stroke="#355eae" stroke-width="1.1"/>
<rect x="547.5" y="1243" width="12.4" height="12.4" fill="none" stroke="#355eae" stroke-width="1.1"/>
<rect x="606.1" y="1264.8" width="12.4" height="12.4" fill="none" stroke="#355eae" stroke-width="1.1"/>
<rect x="664.8" y="1253.9" width="12.4" height="12.4" fill="none" stroke="#355eae" stroke-width="1.1"/>
<line x1="25.5" y1="1118.3" x2="25.5" y2="1112.3" stroke="#111" stroke-width="1.2"/>
<line x1="25.5" y1="1324" x2="25.5" y2="1330" stroke="#111" stroke-width="1.2"/>
<line x1="142.9" y1="1118.3" x2="142.9" y2="1112.3" stroke="#111" stroke-width="1.2"/>
<line x1="142.9" y1="1324" x2="142.9" y2="1330" stroke="#111" stroke-width="1.2"/>
<line x1="260.2" y1="1118.3" x2="260.2" y2="1112.3" stroke="#111" stroke-width="1.2"/>
<line x1="260.2" y1="1324" x2="260.2" y2="1330" stroke="#111" stroke-width="1.2"/>
<line x1="377.6" y1="1118.3" x2="377.6" y2="1112.3" stroke="#111" stroke-width="1.2"/>
<line x1="377.6" y1="1324" x2="377.6" y2="1330" stroke="#111" stroke-width="1.2"/>
<line x1="495" y1="1118.3" x2="495" y2="1112.3" stroke="#111" stroke-width="1.2"/>
<line x1="495" y1="1324" x2="495" y2="1330" stroke="#111" stroke-width="1.2"/>
<line x1="612.3" y1="1118.3" x2="612.3" y2="1112.3" stroke="#111" stroke-width="1.2"/>
<line x1="612.3" y1="1324" x2="612.3" y2="1330" stroke="#111" stroke-width="1.2"/>
<line x1="729.7" y1="1118.3" x2="729.7" y2="1112.3" stroke="#111" stroke-width="1.2"/>
<line x1="729.7" y1="1324" x2="729.7" y2="1330" stroke="#111" stroke-width="1.2"/>
<line x1="84.2" y1="1118.3" x2="84.2" y2="1115.3" stroke="#111" stroke-width="1.2"/>
<line x1="84.2" y1="1324" x2="84.2" y2="1327" stroke="#111" stroke-width="1.2"/>
<line x1="201.6" y1="1118.3" x2="201.6" y2="1115.3" stroke="#111" stroke-width="1.2"/>
<line x1="201.6" y1="1324" x2="201.6" y2="1327" stroke="#111" stroke-width="1.2"/>
<line x1="318.9" y1="1118.3" x2="318.9" y2="1115.3" stroke="#111" stroke-width="1.2"/>
<line x1="318.9" y1="1324" x2="318.9" y2="1327" stroke="#111" stroke-width="1.2"/>
<line x1="436.3" y1="1118.3" x2="436.3" y2="1115.3" stroke="#111" stroke-width="1.2"/>
<line x1="436.3" y1="1324" x2="436.3" y2="1327" stroke="#111" stroke-width="1.2"/>
<line x1="553.7" y1="1118.3" x2="553.7" y2="1115.3" stroke="#111" stroke-width="1.2"/>
<line x1="553.7" y1="1324" x2="553.7" y2="1327" stroke="#111" stroke-width="1.2"/>
<line x1="671" y1="1118.3" x2="671" y2="1115.3" stroke="#111" stroke-width="1.2"/>
<line x1="671" y1="1324" x2="671" y2="1327" stroke="#111" stroke-width="1.2"/>
<line x1="25.5" y1="1159.2" x2="19" y2="1159.2" stroke="#111" stroke-width="1.2"/>
<line x1="729.7" y1="1159.2" x2="736.2" y2="1159.2" stroke="#111" stroke-width="1.2"/>
<line x1="25.5" y1="1241.8" x2="19" y2="1241.8" stroke="#111" stroke-width="1.2"/>
<line x1="729.7" y1="1241.8" x2="736.2" y2="1241.8" stroke="#111" stroke-width="1.2"/>
<line x1="25.5" y1="1324" x2="19" y2="1324" stroke="#111" stroke-width="1.2"/>
<line x1="729.7" y1="1324" x2="736.2" y2="1324" stroke="#111" stroke-width="1.2"/>
<line x1="25.5" y1="1118.3" x2="22" y2="1118.3" stroke="#111" stroke-width="1.2"/>
<line x1="729.7" y1="1118.3" x2="733.2" y2="1118.3" stroke="#111" stroke-width="1.2"/>
<line x1="25.5" y1="1200.6" x2="22" y2="1200.6" stroke="#111" stroke-width="1.2"/>
<line x1="729.7" y1="1200.6" x2="733.2" y2="1200.6" stroke="#111" stroke-width="1.2"/>
<line x1="25.5" y1="1283" x2="22" y2="1283" stroke="#111" stroke-width="1.2"/>
<line x1="729.7" y1="1283" x2="733.2" y2="1283" stroke="#111" stroke-width="1.2"/>
<rect x="25.5" y="1118.3" width="704.2" height="205.7" fill="none" stroke="#000" stroke-width="1.9"/>
<rect x="375.1" y="1117.7" width="4.6" height="206.3" fill="#e61f19"/>
<text transform="translate(36 1156.8)" x="-2.48" y="0" font-size="39.64" fill="#231815" stroke="#231815" stroke-width="0.44">(d)</text>
<text transform="translate(213.9 1164.9)" x="-3.04" y="0" font-size="32.82" fill="#000" stroke="#000" stroke-width="0.36">Intraslab</text>
<text transform="translate(221.8 1202.8)" x="-1.38" y="0" font-size="32.58" fill="#000" stroke="#000" stroke-width="0.36">events</text>
<text transform="translate(578.4 1154.1)" x="-3.28" y="0" font-size="39.72" fill="#18489f" stroke="#18489f" stroke-width="0.44">M&gt;=1.0</text>
<text transform="translate(578.4 1203.2)" x="-3.28" y="0" font-size="39.75" fill="#69b42e" stroke="#69b42e" stroke-width="0.44">M&gt;=0.7</text>
<text transform="translate(579.4 1241.3)" x="-3.23" y="0" font-size="39.14" fill="#e61f19" stroke="#e61f19" stroke-width="0.43">M&gt;=0.5</text>
<text transform="translate(747.4 1164.4)" x="-2.91" y="0" font-size="38.83" fill="#000" stroke="#000" stroke-width="0.43">1.0</text>
<text transform="translate(745.2 1246.4)" x="-1.58" y="0" font-size="39.62" fill="#000" stroke="#000" stroke-width="0.44">0.8</text>
<text transform="translate(745.2 1326)" x="-1.58" y="0" font-size="39.62" fill="#000" stroke="#000" stroke-width="0.44">0.6</text>
<text transform="translate(889.7 1285.4) rotate(-90.00) scale(1 1.07)" x="-2.59" y="0" font-size="39.82" fill="#000" stroke="#000" stroke-width="0.44">b–value</text>
<rect x="24.4" y="1458.5" width="703.2" height="24.4" fill="#000"/>
<path d="M317.6 1461V1428.1M603.7 1461V1446.5M283.9 1461V1442.9M422.2 1461V1441.4M112.9 1461V1450.3M419.5 1461V1442M413.3 1461V1448.3M696.7 1461V1437.1M711.1 1461V1449.8M378.8 1461V1440.6M529.3 1461V1442.7M265.1 1461V1430M263.6 1461V1460.5M711.3 1461V1456.7M28.3 1461V1460.1M635.6 1461V1457.2M151.1 1461V1437.7M316.2 1461V1459.2M430.7 1461V1456.5M188.8 1461V1452.2M522.6 1461V1458.2M591 1461V1444.4M637.3 1461V1443.8M587.4 1461V1452.8M156 1461V1453.3M388.8 1461V1460.4M55 1461V1441.5M714.4 1461V1458.3M131.1 1461V1444.3M403.4 1461V1441.1M252.6 1461V1433.4M524.2 1461V1436.2M722.3 1461V1459.8M578.2 1461V1457.2M283.4 1461V1455.3M558.9 1461V1451.3M69 1461V1454.1M254 1461V1453.7M320.6 1461V1460.3M167.1 1461V1457.1M515 1461V1452.8M81.9 1461V1441.5M703.2 1461V1444.3M140.4 1461V1446.2M402 1461V1452.1M28.2 1461V1426.2M373.2 1461V1442.5M451.3 1461V1457.7M93 1461V1451.8M310.3 1461V1457.5M694.4 1461V1449.9M196.2 1461V1459.1M45 1461V1447.5M302.3 1461V1442.2M502 1461V1452.1M200.2 1461V1449.8M510.4 1461V1447.4M73.3 1461V1450.9M162.5 1461V1454M167.3 1461V1439.9M651.9 1461V1447.5M230.6 1461V1452.4M511.4 1461V1455.1M584.9 1461V1445.3M324.8 1461V1448.5M387.7 1461V1453.1M466.5 1461V1435.2M285.8 1461V1455.9M50.6 1461V1456.7M506.2 1461V1449.5M340.4 1461V1445.5M542.1 1461V1451.3M211.5 1461V1431M267.5 1461V1459.8M499.3 1461V1454.1M679.8 1461V1431.2M447.7 1461V1442.6M303.8 1461V1442.4M270.4 1461V1459.5M533.8 1461V1458.5M78.8 1461V1446.6M575 1461V1432.5M158.7 1461V1436.4M598.4 1461V1444.4M323 1461V1428.6M105.5 1461V1452M580 1461V1447.9M249.5 1461V1432.5M95.7 1461V1440.7M170.3 1461V1453M277.2 1461V1460.7M224.8 1461V1458.7M90.2 1461V1452.2M410.6 1461V1454.8M313.1 1461V1452.2M570.5 1461V1440.8M398.1 1461V1453.3M573.2 1461V1441.5M316.2 1461V1430.2M489.8 1461V1458.9M273.4 1461V1458M486.7 1461V1428.9M355.2 1461V1433.1M245.2 1461V1457.7M113.7 1461V1452.9M65.6 1461V1438.3M692.6 1461V1437.5M147.8 1461V1460.1M242.2 1461V1443.8M93.4 1461V1451.7M67.1 1461V1443.9M181.4 1461V1456.7M139.4 1461V1453.3M195.1 1461V1460.9M719.5 1461V1459.8M656.1 1461V1452.7M677.7 1461V1454.4M137.5 1461V1456.4M620.6 1461V1428.7M162.4 1461V1457.4M563.7 1461V1452.9M111.5 1461V1445.5M190.9 1461V1460.7M183.7 1461V1448.7M508.4 1461V1455M419.5 1461V1454.7M631.6 1461V1459.7M101.8 1461V1431.1M665.6 1461V1459.6M283.6 1461V1449.5M505.5 1461V1450M103.6 1461V1445M238.6 1461V1453M145.8 1461V1456.3M704.9 1461V1449.1M425.2 1461V1454.3M584.6 1461V1454.2M387.6 1461V1456.2M42.5 1461V1460.1M655.1 1461V1455.6M167.1 1461V1454.1M45.6 1461V1449.4M176.7 1461V1452.9M201.2 1461V1437.2M581.8 1461V1445M417.8 1461V1428.9M420.4 1461V1457.5M575.6 1461V1447.5M115.8 1461V1453.7M240.5 1461V1446.1M173 1461V1449.3M503.6 1461V1449.5M478.5 1461V1456.3M593.3 1461V1453M719.3 1461V1451.7M402 1461V1454.8M706 1461V1455.8M667.9 1461V1441.2M321.4 1461V1455.8M538.9 1461V1458.3M212.4 1461V1447M314.9 1461V1449.3M90.8 1461V1449.2M475.7 1461V1456.6M186.9 1461V1454M551.8 1461V1441.1M35.9 1461V1441.3M501.3 1461V1459.7M297.1 1461V1447M465.1 1461V1447.1M53.4 1461V1444.8M446.4 1461V1450.8M268.8 1461V1449.3M121.9 1461V1457.1M287.8 1461V1455.5M423.5 1461V1459.4M583.6 1461V1439.7M342 1461V1428.3M554.6 1461V1444.3M709.7 1461V1444.1M381.8 1461V1451.5M605.2 1461V1453.5M642.8 1461V1447.2M94.2 1461V1442.5M58.3 1461V1455.9M506.3 1461V1456.9M572.7 1461V1439.2M70.8 1461V1454.9M26.7 1461V1447.7M437.4 1461V1454.7M456.9 1461V1460.2M708.3 1461V1446.9M246.5 1461V1429.5M110.7 1461V1450.4M475.2 1461V1444.5M95.5 1461V1455.4M496.6 1461V1451.7M124.6 1461V1443M213.6 1461V1458.7M674.4 1461V1433.2M681.8 1461V1459.7M581.1 1461V1444.4M703 1461V1457.9M123.5 1461V1431.9M290.6 1461V1453.2M43.2 1461V1460.3M497 1461V1452M370.4 1461V1438M549.5 1461V1456.6M41.6 1461V1457.8M274 1461V1460M265.4 1461V1443.6M163 1461V1447.6M75.4 1461V1441.4M356.8 1461V1452.7M416.3 1461V1439.7M43.1 1461V1440.6M655.7 1461V1440M504.6 1461V1452.8M446.1 1461V1460M204.9 1461V1455.8M388.3 1461V1448.6M306.7 1461V1443.2M96.5 1461V1459.8M474.3 1461V1441.8M588.2 1461V1442.5M489.6 1461V1453.3M583.8 1461V1449.8M694.7 1461V1456.1M340.4 1461V1439M206.6 1461V1439.7M390.8 1461V1457.8M545.6 1461V1454.4M324.8 1461V1445.9M588.8 1461V1455.1M490.6 1461V1452.8M579.5 1461V1453.4M210.3 1461V1448.8M242.8 1461V1446.3M655 1461V1456M455.6 1461V1450.7M365.8 1461V1438.1M358.2 1461V1453.3M271.2 1461V1451.9M725.6 1461V1459.7M79.8 1461V1460.2M582.2 1461V1457.9M589.3 1461V1443.5M118.3 1461V1454.5M605.6 1461V1437.9M36 1461V1460.2M663.1 1461V1445.4M606.4 1461V1446.5M615.1 1461V1428.5M451.9 1461V1444.1M471.1 1461V1430.3M479.1 1461V1437.7M336.5 1461V1435.4M294.5 1461V1441.1M255.5 1461V1451.1M487.4 1461V1454.3M392.5 1461V1458.7M313.6 1461V1440.4M505.7 1461V1448.3M680.4 1461V1449.2M35.6 1461V1447.9M697.8 1461V1451.3M602.1 1461V1448.6M451.9 1461V1435.9M167.7 1461V1438M307.7 1461V1447.3M416.5 1461V1454.6M193.9 1461V1445.6M43.1 1461V1439M293 1461V1459.4M157.7 1461V1449.7M34.9 1461V1453.4M320.5 1461V1447.6M298.9 1461V1445.7M311.6 1461V1442.5M524.8 1461V1460M660.8 1461V1448.6M34 1461V1457.1M349.1 1461V1452.6M485.1 1461V1457.9M388.6 1461V1450.3M117.9 1461V1432.7M141.7 1461V1441M684.6 1461V1453M45.1 1461V1447.2M314.4 1461V1458.3M315.3 1461V1452.6M210.8 1461V1447.3M81.7 1461V1457.4M368.3 1461V1456.4M426.5 1461V1437M214.1 1461V1447.2M574.3 1461V1448M702 1461V1457.7M509.6 1461V1452.3M510.7 1461V1447.8M97.5 1461V1458.7M347.7 1461V1460.4M538.4 1461V1453.1M324.9 1461V1455.5M195.6 1461V1448.2M249.7 1461V1458.1M691 1461V1437.5M43.1 1461V1448.2M503.9 1461V1450.4M558.1 1461V1460.5M492.4 1461V1455M126.1 1461V1453.3M465.3 1461V1442.9M44 1461V1455.3M721.4 1461V1454.6M166.5 1461V1459M248.3 1461V1447.9M595.5 1461V1457.6M677.9 1461V1459.2M27.6 1461V1444.3M434 1461V1444.4M621.8 1461V1456.5M555.3 1461V1460.1M521.4 1461V1460.4M352.5 1461V1439.9M387.6 1461V1460.2M456 1461V1447.3M94.9 1461V1439.8M111.8 1461V1456M255.9 1461V1450.3M709 1461V1447.6M483.5 1461V1448.1M295.9 1461V1450.1M337.2 1461V1438.7M475.3 1461V1452.8M104.1 1461V1460.6M717 1461V1445.8M264.4 1461V1457.4M380.3 1461V1453M561.1 1461V1456.8M211.7 1461V1451.4M593.4 1461V1459.2M632.4 1461V1457.7M486.8 1461V1430.5M282 1461V1455.9M196 1461V1434.7M441.8 1461V1457.1M723.4 1461V1456.3M340.1 1461V1431.4M502 1461V1459.3M388.6 1461V1452.9M90.5 1461V1447.2M440.5 1461V1457.8M253.2 1461V1458.3M437.8 1461V1452.8M166.6 1461V1455.6M121.8 1461V1450M646.6 1461V1458.9M687.2 1461V1442.9M659.2 1461V1451.1M141 1461V1459.4M691.3 1461V1460.6M276.9 1461V1444.1M673.4 1461V1456M673.9 1461V1456.4M715.3 1461V1456.4M600 1461V1459.8M326.8 1461V1459.8M315.6 1461V1460.4M405.5 1461V1454.5M32.7 1461V1447.8M218.4 1461V1428.4M245.1 1461V1445.2M102.1 1461V1445.2M628.3 1461V1443.8M516 1461V1460.9M32.3 1461V1456M120 1461V1442.5M241.5 1461V1459.7M639.5 1461V1437.2M579.1 1461V1436.6M277.1 1461V1461M641.8 1461V1438.3M423 1461V1450M498.6 1461V1458.8M416.4 1461V1460M653.6 1461V1441.5M65.8 1461V1443.1M381.5 1461V1455.6M624.1 1461V1456.4M484.1 1461V1453.6M483.9 1461V1449.5M490 1461V1458.4M625.6 1461V1456.1M499 1461V1435.6M255.5 1461V1450.8M240.9 1461V1443.1M288.2 1461V1458.3M213 1461V1460M30.3 1461V1450M531 1461V1456.9M34.3 1461V1438.6M75.5 1461V1452.9M92.2 1461V1449.4M223.5 1461V1437.9M288.3 1461V1450.3M430.9 1461V1448M74.1 1461V1447.5M511.9 1461V1426.4M391.3 1461V1429.2M631 1461V1443M399.5 1461V1437.1M409.1 1461V1457.6M666.3 1461V1457.5M651.7 1461V1427.7M590.1 1461V1433.4M635.5 1461V1460.9M528.4 1461V1453.6M539.3 1461V1436.8M630.5 1461V1436.9M193.1 1461V1445.7M507.3 1461V1449.3M296.1 1461V1451.7M553.4 1461V1458.4M617.6 1461V1446M62.6 1461V1437.4M106.4 1461V1456.7M84.9 1461V1456.9M27.2 1461V1455.5M199.1 1461V1454.5M558.3 1461V1454.8M77.7 1461V1429.4M293.9 1461V1459.6M351.1 1461V1445.4M355.5 1461V1458.1M170.9 1461V1439.1M669 1461V1450M336.6 1461V1446.9M197.1 1461V1458.8M587.8 1461V1445.1M533.5 1461V1459.8M318.4 1461V1460.7M89.5 1461V1458.4M621.6 1461V1445.1M219.7 1461V1445.7M121.5 1461V1457.9M514.9 1461V1457.5M475.5 1461V1445.4M86.9 1461V1445.3M577.9 1461V1429.2M399.4 1461V1447.3M227.9 1461V1447.7M440.2 1461V1441.7M137.3 1461V1458.6M554.2 1461V1448.4M200.1 1461V1453.3M678.8 1461V1457.5M336.2 1461V1454.3M277.4 1461V1455.9M388.5 1461V1430.6M497.8 1461V1459M365.3 1461V1441.3M238.3 1461V1442.8M614 1461V1456.5M234.1 1461V1446.7M114.3 1461V1450.4M709.3 1461V1456.9M681 1461V1435.8M674 1461V1459.7M593.6 1461V1439.4M634.3 1461V1460.7M544.3 1461V1452M266 1461V1459.1M445 1461V1447.3M83.5 1461V1429M517.4 1461V1446.4M118.5 1461V1446.8M349.4 1461V1458.6M357.9 1461V1439.5M606 1461V1455.2M408.2 1461V1459.4M309.7 1461V1449.1M64.2 1461V1455.7M461.2 1461V1460.2M31.4 1461V1449.8M332.2 1461V1449.8M56.2 1461V1458M56 1461V1454.4M244.7 1461V1450.1M612.6 1461V1443.3M384.1 1461V1445.5M453.1 1461V1452.6M493.2 1461V1437.4M468.9 1461V1454.9M73.3 1461V1460.5M621.6 1461V1457.6M576.6 1461V1451.7M666.8 1461V1441M546.7 1461V1460.6M69.8 1461V1454.6M707.3 1461V1440.3M417.4 1461V1459.4M210.6 1461V1443.6M528.5 1461V1457.6M685.3 1461V1454.7M63.6 1461V1458.1M226.1 1461V1452.9M530.7 1461V1460.7M412 1461V1440.5M384.2 1461V1452.8M552.5 1461V1442.8M412.1 1461V1433.4M715.6 1461V1429.8M404.7 1461V1442M218.3 1461V1449.5M203.1 1461V1445.4M242 1461V1451.7M695.6 1461V1443.5M146.8 1461V1432.8M667 1461V1457.4M607.5 1461V1440.7M335 1461V1455.1M397.9 1461V1456.4M161.9 1461V1459.5M440.4 1461V1453.8M436.2 1461V1450.5M34.7 1461V1441.5M362.8 1461V1436.4M442.5 1461V1442.7M505.3 1461V1449.6M486.4 1461V1445.4M113.1 1461V1455M603.9 1461V1443.6M51.6 1461V1458.9M553.3 1461V1457.1M579.5 1461V1449.9M691.8 1461V1457.9M555.1 1461V1460.1M661.8 1461V1452.9M65.4 1461V1453.4M373 1461V1428.9M245.9 1461V1458.1M463.4 1461V1459.9M555.2 1461V1442.5M525.3 1461V1433.2M634.6 1461V1446.4M705.8 1461V1433.3M545.8 1461V1437.8M630.2 1461V1458M384.6 1461V1452.9M179.9 1461V1448.5M129.8 1461V1449.3M122.5 1461V1454.3M371.1 1461V1448.3M268.3 1461V1460.3M689.6 1461V1460.7M279.8 1461V1436.4M139.9 1461V1458.8M271.6 1461V1440.6M695 1461V1444.1M418.2 1461V1449.8M122.6 1461V1448.7M577.9 1461V1452.5M626.5 1461V1428.8M101.4 1461V1450.2M475.5 1461V1449.7M219.2 1461V1458M623 1461V1454.6M118.6 1461V1456.6M451.3 1461V1456.5M541 1461V1452.9M295.1 1461V1458.4M673.9 1461V1460.3M238.4 1461V1443.6M160.8 1461V1455.3M701.1 1461V1444.6M340.5 1461V1452.6M317.5 1461V1452.6M285.6 1461V1453.3M710.7 1461V1457M700.1 1461V1450M130.6 1461V1443.2M188 1461V1457.2M182.1 1461V1452.9M675.2 1461V1450M191.9 1461V1459.2M711.4 1461V1435.2M601.9 1461V1460.6M233.4 1461V1448.4M160.2 1461V1443.8M564.7 1461V1450.5M242.5 1461V1448.5M661.3 1461V1460.9M249.7 1461V1445.6M214.5 1461V1457.4M662.2 1461V1442.8M99.2 1461V1447.6M607.2 1461V1458.6M691.1 1461V1450M56.2 1461V1433.1M590.6 1461V1448.8M145.2 1461V1446M96 1461V1459.7M327.1 1461V1451.8M165.9 1461V1452.2M203.5 1461V1460.1M631.7 1461V1456.1M421 1461V1456.4M85.2 1461V1448.5M642.9 1461V1457.6M246.9 1461V1449.1M123.5 1461V1425.5M691.1 1461V1442.5M586.8 1461V1442.2M344.6 1461V1452.6M155.3 1461V1446M123.4 1461V1426.5M283.7 1461V1458.4M180 1461V1450.3M301.5 1461V1452M175.9 1461V1433.2M257.1 1461V1460.7M432.2 1461V1450.7M232.1 1461V1456.1M129.7 1461V1453.8M375.7 1461V1435.3M376.7 1461V1447.8M33.2 1461V1450.6M168.7 1461V1438.2M506.6 1461V1452.7M299.5 1461V1455.8M639.8 1461V1448.6M394.4 1461V1459.3M212.4 1461V1450.7M366.5 1461V1448.4M418.3 1461V1457.5M636.3 1461V1449.8M224.3 1461V1457.1M518.4 1461V1445.8M336.3 1461V1444.9M392.5 1461V1443.5M75.5 1461V1445.5M86.9 1461V1446.6M255.8 1461V1446.9M676.8 1461V1457M208.9 1461V1459.5M363.5 1461V1428.8M354.6 1461V1436.6M218.3 1461V1460.4M398.2 1461V1460.8M335.4 1461V1447.6M186.5 1461V1444.9M566.1 1461V1453.4M628.7 1461V1451.3M635.3 1461V1459.5M77.8 1461V1455.1M78.3 1461V1448.2M115.1 1461V1454.3M112.8 1461V1436.9M541.2 1461V1455.3M618.3 1461V1459.6M525.1 1461V1458.2M227.8 1461V1450.8M407.7 1461V1449.4M349.6 1461V1451.3M388.2 1461V1432.3M129.8 1461V1457.2M631.8 1461V1443.4M104.5 1461V1444.5M641.3 1461V1450.5M711.6 1461V1451.6M107.2 1461V1457.1M109.7 1461V1455.7M723.4 1461V1456.7M595.7 1461V1450.1M69.5 1461V1444.2M627.3 1461V1457.5M428 1461V1443.2M360.4 1461V1458.1M102.2 1461V1459.5M80.7 1461V1456.2M38.7 1461V1458.7M246.4 1461V1452.7M56.6 1461V1455M724.2 1461V1446.6M612.7 1461V1440.8M51.6 1461V1455M215.5 1461V1456.1M71.5 1461V1439.8M247.2 1461V1452.1M194 1461V1439.3M104.1 1461V1448.6M69.5 1461V1452.5M46.4 1461V1452.1M247.8 1461V1432.4M41.4 1461V1453.2M524.3 1461V1442.3M425.7 1461V1436.7M352 1461V1458M158.3 1461V1451M658.2 1461V1445.6M573.9 1461V1436.1M217.8 1461V1457.3M633.5 1461V1446.3M313.8 1461V1447.6M160.6 1461V1447.5M613.5 1461V1453.1M616.7 1461V1453M500.1 1461V1452.8M174.5 1461V1451.5M267.1 1461V1444.3M247.1 1461V1459.8M700 1461V1460.5M407.3 1461V1445.8M281.5 1461V1446.5M699.6 1461V1458.8M577.2 1461V1452.1M365.6 1461V1456.5M648.9 1461V1456.1M689.2 1461V1453.6M613.5 1461V1453.7M410.7 1461V1458.1M338.6 1461V1458.5M206.3 1461V1460.6M538.2 1461V1442.9M505 1461V1446.2M93.8 1461V1439.7M329.4 1461V1460.2M192.2 1461V1452.5M333.8 1461V1441.8M512.7 1461V1446.7M57.6 1461V1458.6M559.5 1461V1433.2M342.6 1461V1447.2M485.4 1461V1447M515.6 1461V1433.1M661.6 1461V1454.6M304.8 1461V1458M544.4 1461V1447M88.8 1461V1454.4M323.1 1461V1458.9M130.9 1461V1458.3M616.7 1461V1443.4M204.9 1461V1453.8M225.1 1461V1451.4M398.9 1461V1449.3M112.5 1461V1446.1M593.8 1461V1457.7M96.9 1461V1455.6M641.7 1461V1453.7M698.7 1461V1453.4M353.9 1461V1449.5M434.7 1461V1454.9M720.8 1461V1440.7M253.7 1461V1459.3M506.4 1461V1446.8M419.9 1461V1434.7M131.1 1461V1432.3M618 1461V1439.9M286.7 1461V1447.5M513.7 1461V1435.7M32.2 1461V1441.9M423.7 1461V1448.2M79.2 1461V1446.1M211.4 1461V1456.3M525.5 1461V1429.2M610.6 1461V1438.2M305.8 1461V1450M46.8 1461V1438.2M545.3 1461V1455.5M578.3 1461V1460.5M648 1461V1446.6M485.9 1461V1454.9M185.1 1461V1457M662.8 1461V1453.4M573.1 1461V1446M617.3 1461V1447.6M238.8 1461V1452.9M454 1461V1451M608.3 1461V1456.9M393.8 1461V1459.2M306.6 1461V1449.2M712.4 1461V1447M119.2 1461V1458.7M508.5 1461V1447.2M591.1 1461V1455.3M342.8 1461V1452.3M691 1461V1452.5M98.7 1461V1450.4M238.6 1461V1460.4M332.1 1461V1449.5M562 1461V1457.1M81.7 1461V1455.3M679.8 1461V1453.2M219.9 1461V1460M71.2 1461V1451.5M164.4 1461V1452.8M306.8 1461V1459.1M76.9 1461V1451M227.8 1461V1438.3M617.3 1461V1454.6M272.2 1461V1452.3M339.2 1461V1434.4M256.8 1461V1431.7M95.3 1461V1458.6M573 1461V1446.4M38.3 1461V1459.1M73.4 1461V1444.8M620.1 1461V1453.1M333.1 1461V1457.4M668.8 1461V1453.2M671.2 1461V1435.3M389.6 1461V1455.5M618.4 1461V1451.2M466.3 1461V1446.2M537 1461V1453.2M719.1 1461V1452.3M160.7 1461V1457.6M341.7 1461V1439.6M699.7 1461V1451.6M143.5 1461V1443.2M203.9 1461V1459.9M594.9 1461V1431.8M516.5 1461V1447.5M332.3 1461V1456.6M231.1 1461V1446.3M677.7 1461V1457.5M607.9 1461V1456.6M697.9 1461V1456.9M548.1 1461V1446.3M519.3 1461V1460M425.6 1461V1456.1M148.6 1461V1451M396.6 1461V1456.4M389.3 1461V1444.5M716.2 1461V1451.4M108.8 1461V1458.5M282 1461V1460.3M47.3 1461V1457M501.8 1461V1456.1M51.6 1461V1451.8M379 1461V1446.5M88 1461V1453.8M282.2 1461V1460.8M189.8 1461V1449.2M486.9 1461V1439.8M131 1461V1436.9M619.6 1461V1457.5M108.9 1461V1446M490 1461V1434.2M68.4 1461V1442.7M569.7 1461V1445M549 1461V1441.5M469.9 1461V1455.2M473.5 1461V1442M351.8 1461V1445.1M252.2 1461V1447.6M662.6 1461V1442.5M302.9 1461V1457.4M81.6 1461V1457.3M659.6 1461V1454M673.7 1461V1450.8M571.1 1461V1460.9M372.6 1461V1450.7M692.9 1461V1455.7M379.1 1461V1449.4M528.1 1461V1460.6M378.6 1461V1451M381.2 1461V1432.5M602.7 1461V1456.2M465.3 1461V1455.7M592.1 1461V1450.3M426.3 1461V1444.7M415.9 1461V1454.7M419.9 1461V1443M220.7 1461V1432.4M320.3 1461V1453.2M273.5 1461V1455.1M294.8 1461V1451.1M167.1 1461V1452.3M177.6 1461V1444M326.2 1461V1454.4M386.3 1461V1444.2M425.4 1461V1455.8M174.8 1461V1439M633.5 1461V1447.9M418.9 1461V1451.5M384.2 1461V1447M131.8 1461V1455.7M501.3 1461V1460M374.4 1461V1458.6M378.2 1461V1460.8M142.8 1461V1446.6M565 1461V1450M420.3 1461V1459.2M175.5 1461V1435M38.1 1461V1453.9M688 1461V1444.6M379.8 1461V1450.1M371.4 1461V1458.1M646.1 1461V1453.3M356.9 1461V1459.6M336.5 1461V1446.7M360.8 1461V1454.9M190.2 1461V1456.7M287.6 1461V1434.4M514.6 1461V1459.2M662.6 1461V1460.7M59.3 1461V1460.6M656.5 1461V1459.3M31.5 1461V1455.1M164.2 1461V1459.5M218.8 1461V1434.1M437.1 1461V1455.6M399.2 1461V1449.7M73.5 1461V1456.2M31.7 1461V1453.2M94.2 1461V1450.8M433.5 1461V1444.9M554.2 1461V1445.2M632.3 1461V1449.3M506.9 1461V1450.7M249.9 1461V1437.3M454.2 1461V1433.6M354 1461V1449.6M230.5 1461V1445.1M367 1461V1459.1M581.9 1461V1446.8M442.4 1461V1454.2M531.6 1461V1454.1M70.1 1461V1440.4M578.1 1461V1445.4M423.9 1461V1433.8M432.8 1461V1446.2M55.2 1461V1428.7M193 1461V1452M552.6 1461V1431.2M381.2 1461V1447.7M451.1 1461V1455.8M84.8 1461V1444.9M634.3 1461V1455M142.8 1461V1452.4M280.5 1461V1441M310.4 1461V1452.3M486 1461V1459.2M217.7 1461V1460.8M283.4 1461V1454.6M302.7 1461V1450.6M507.1 1461V1456.6M73.7 1461V1429.8M269 1461V1447.1M338.1 1461V1460.2M236.6 1461V1444.2M327.7 1461V1447.6M314.2 1461V1452.2M105.2 1461V1456.9M469.2 1461V1456.8M334.3 1461V1442.1M545.8 1461V1459M650.4 1461V1456.2M113.8 1461V1446.3M509.3 1461V1432.5M224.1 1461V1449.1M583.5 1461V1430.6M217.6 1461V1454.4M29.2 1461V1446.9M541.2 1461V1451M545.8 1461V1444.9M525.4 1461V1441.1M466.5 1461V1457.5M69.7 1461V1446M257.7 1461V1459.2M74.2 1461V1449.7M722.8 1461V1437.2M694.8 1461V1435.7M406.4 1461V1450.6M504.4 1461V1446.1M356.1 1461V1458.9M139.8 1461V1459.4M92.6 1461V1442M182.8 1461V1452.4M243.1 1461V1451.1M67.6 1461V1446.6M29.5 1461V1439M486.9 1461V1452.8M349.5 1461V1430.3M557 1461V1437.6M515.3 1461V1449.6M636.7 1461V1437.6M271.9 1461V1432.7M682.3 1461V1453.9M263.1 1461V1441.4M649.8 1461V1448.3M114 1461V1451.1M280.4 1461V1458.1M68.1 1461V1457.1M648.3 1461V1434.5M501.8 1461V1456.3M556.6 1461V1458.9M353.1 1461V1454.6M436.9 1461V1450.4M119.5 1461V1452.5M394.8 1461V1448M536.6 1461V1459.2M382.4 1461V1448.9M382.5 1461V1456.5M237.1 1461V1458.2M488.6 1461V1455.8M442.8 1461V1435.2M478.7 1461V1458.9M493.9 1461V1458.5M127.7 1461V1450.8M528.4 1461V1460.2M84.2 1461V1443.3M193.2 1461V1445.1M479.6 1461V1449.7M672.4 1461V1455.2M513 1461V1459.5M628.7 1461V1430.8M322.5 1461V1454.7M532.6 1461V1459.5M169.3 1461V1451.6M655.8 1461V1442.5M55.8 1461V1450.1M148.2 1461V1431.7M301.8 1461V1454.3M477.1 1461V1458.7M223.1 1461V1445.8M658.4 1461V1433.9M442.9 1461V1440M557.1 1461V1438.7M611.5 1461V1446.3M678 1461V1454.2M565.2 1461V1443.3M496.3 1461V1454.8M306.1 1461V1452.8M401.7 1461V1458.5M724.7 1461V1458.1M374.9 1461V1437.8M468.6 1461V1460.6M176.3 1461V1439.9M159 1461V1437M384.6 1461V1443.2M646.1 1461V1459.3M635.9 1461V1452.3M339.9 1461V1455M310 1461V1452.9M69.6 1461V1452.7M418.3 1461V1443.8M152.1 1461V1450.4M656.2 1461V1460.9M522.3 1461V1447.5M256.3 1461V1459.9M212.6 1461V1453.5M531.4 1461V1446M674.8 1461V1445M720.4 1461V1455.9M395.3 1461V1453.2M650.6 1461V1458.7M56 1461V1447.2M32.3 1461V1450M520 1461V1449.2M420 1461V1441.5M169.7 1461V1447.6M204.6 1461V1456M572.2 1461V1446.9M612.4 1461V1448.1M608.7 1461V1455.8M376.2 1461V1457.1M578.2 1461V1444M655 1461V1447.9M69.6 1461V1460.9M720.6 1461V1455M56.4 1461V1428.4M573.1 1461V1455.6M615.3 1461V1460.4M465.1 1461V1457.9M282.1 1461V1449.6M457.8 1461V1446.8M484.2 1461V1459.2M339.3 1461V1459.3M560.6 1461V1445.4M73.5 1461V1447.1M443.1 1461V1453.2M139.4 1461V1455.4M248.9 1461V1449M104.9 1461V1456M200.5 1461V1443.3M653 1461V1447.6M591.4 1461V1434.2M378.8 1461V1454.6M519.2 1461V1451M146.6 1461V1452.5M644.4 1461V1446.4M310.6 1461V1455M272.1 1461V1454.7M318.2 1461V1441.5M360.7 1461V1434.6M81.9 1461V1450.2M264.9 1461V1457.8M63.3 1461V1448M447.7 1461V1453M460 1461V1453.1M701.3 1461V1444.1M380.2 1461V1435.9M560.9 1461V1452.6M702.1 1461V1438.7M402.6 1461V1445.6M319.9 1461V1459.9M186.8 1461V1439.7M308.6 1461V1445.7M565.1 1461V1456M210.3 1461V1458.4M190.4 1461V1434.8M145.2 1461V1453.1M567.2 1461V1456.1M138.3 1461V1449.3M599.5 1461V1454.3M563.3 1461V1440.9M587.6 1461V1441.8M47.4 1461V1451.3M478.3 1461V1454.3M366.3 1461V1442.4M422.9 1461V1451.2M26.6 1461V1445.4M294.8 1461V1456.4M707.3 1461V1460.7M423.5 1461V1448.2M626.3 1461V1457.7M698.2 1461V1445.2M724.5 1461V1453.4M477.3 1461V1444.5M671.7 1461V1440.4M509.1 1461V1459.9M588 1461V1443.7M712.1 1461V1458.5M723 1461V1457.7M690.5 1461V1443.9M174.6 1461V1444.6M358.9 1461V1442.2M658.6 1461V1458.3M265.3 1461V1445.2M121 1461V1443.4M217.1 1461V1447M518.6 1461V1434.4M417 1461V1457.9M194.9 1461V1454.3M210.5 1461V1459.4M376.4 1461V1448.6M671.9 1461V1452M294.1 1461V1442.6M102.5 1461V1447M42.7 1461V1458.9M654.3 1461V1458.4M363.6 1461V1448.2M227.3 1461V1440M227.5 1461V1446.9M378.3 1461V1442.7M393.2 1461V1451.7M124.3 1461V1453.2M660.1 1461V1456.9M405.2 1461V1444.9M527.5 1461V1444.6M619.9 1461V1445.9M161.6 1461V1457.3M173.4 1461V1445.9M513.8 1461V1449M301.9 1461V1459.7M633.4 1461V1460.9M417.1 1461V1448.9M438.9 1461V1449.7M702.2 1461V1445.4M604.6 1461V1457.5M221.2 1461V1457.3M510.9 1461V1457.7M387.5 1461V1440.3M363.8 1461V1460.3M661 1461V1447.2M480.1 1461V1430.9M530.4 1461V1453.2M298 1461V1445.7M84.1 1461V1444.6M326 1461V1450.1M133.9 1461V1455.6M33 1461V1442.2M224.8 1461V1442.1M594.9 1461V1460.3M355.2 1461V1447.7M616.3 1461V1456.9M481.3 1461V1459.8M77.7 1461V1453.4M213.5 1461V1460.5M71.2 1461V1459.2M667.2 1461V1434.1M645.4 1461V1451.8M655.9 1461V1451M711.7 1461V1447.1M160.8 1461V1454.3M708.9 1461V1445.2M506.6 1461V1445.5M286.4 1461V1453.8M564.9 1461V1451.6M677.4 1461V1454.8M50.6 1461V1453.8M50.4 1461V1444.7M400.5 1461V1449.7M506.2 1461V1449.7M592.9 1461V1452.7M441.1 1461V1453.8M377.6 1461V1452.3M30.2 1461V1440.7M244.7 1461V1444.3M160.4 1461V1455.6M335.6 1461V1441.4M484.5 1461V1442.1M235.7 1461V1443.2M500.5 1461V1451.8M35.2 1461V1455.9M151.5 1461V1445.4M98 1461V1453.5M415.6 1461V1445M722.8 1461V1449.4M119.4 1461V1457.7M384.8 1461V1451M450 1461V1451.2M329 1461V1432.9M584.6 1461V1452.7M525.5 1461V1434.3M356.9 1461V1447.9M394.1 1461V1455.6M205.3 1461V1456.5M513 1461V1435.5M627.1 1461V1454.1M214.3 1461V1459.3M56.8 1461V1453.1M623.2 1461V1456.3M665.2 1461V1451.4M665.9 1461V1433.1M604.1 1461V1442.8M479 1461V1460.9M375.1 1461V1458.5M503.3 1461V1458.5M28.7 1461V1451.4M481.3 1461V1456.3M683.1 1461V1442.3M392.8 1461V1454M305.3 1461V1459.7M378.9 1461V1435.8M475 1461V1456.7M515.5 1461V1451.5M353.3 1461V1458.7M517.6 1461V1455.9M599.1 1461V1437.9M515.9 1461V1458.7M539.3 1461V1460.2M302.7 1461V1456.9M561.6 1461V1456.7M385.9 1461V1451.3M671.3 1461V1443.9M248.2 1461V1441.7M617.2 1461V1458.4M275.7 1461V1449.5M577.8 1461V1454.4M327.8 1461V1460.3M397.3 1461V1437.3M283.3 1461V1448.2M131.8 1461V1454.1M413.1 1461V1455.8M661.4 1461V1443.6M220.2 1461V1454.4M542.6 1461V1455.5M63.9 1461V1457.5M195.7 1461V1435.7M703.5 1461V1438.6M688.8 1461V1443.7M170.3 1461V1459.7M536.3 1461V1460.4M53.5 1461V1455.4M330 1461V1445.9M324.8 1461V1457.8M352.5 1461V1459.9M682.2 1461V1453.6M110.5 1461V1439.7M403.1 1461V1458.2M726 1461V1456.1M26.6 1461V1459.6M440.4 1461V1439.4M516.9 1461V1460.1M217.6 1461V1453.1M466 1461V1453.6M262 1461V1452.7M670.9 1461V1452.7M143.9 1461V1453M547.5 1461V1436.1M629.7 1461V1451.2M176.1 1461V1444M82.1 1461V1458.6M599.5 1461V1449.8M716.4 1461V1444M28.2 1461V1458.3M558.5 1461V1442.4M249.5 1461V1436.3M415.7 1461V1452.3M468.5 1461V1458.5M619 1461V1447.9M319.7 1461V1440.9M434.8 1461V1449.1M513.1 1461V1446.7M278.3 1461V1454.7M131 1461V1444.5M416.5 1461V1455M111.2 1461V1449.7M343.2 1461V1449.6M73.8 1461V1455.5M514.8 1461V1444.9M401.2 1461V1458.2M545 1461V1428M248.5 1461V1444M634.2 1461V1455.7M550.9 1461V1428.5M547.7 1461V1440.3M155 1461V1451M451.5 1461V1445.1M629.5 1461V1456.4M702 1461V1440.4M355.8 1461V1448.6M303.5 1461V1437.7M659.3 1461V1439.2M62 1461V1429M580.1 1461V1458.9M252.4 1461V1442.7M222.2 1461V1450.2M455.5 1461V1445.5M544.2 1461V1456.5M676.5 1461V1460.1M547.6 1461V1460.1M571.8 1461V1449.1M43.1 1461V1443.8M687.5 1461V1454.9M598.7 1461V1434.1M576.1 1461V1446M232.4 1461V1450.3M609.7 1461V1455.9M717.9 1461V1427.2M331.8 1461V1453.9M339.5 1461V1449.2M654.4 1461V1451.9M132.4 1461V1449.1M303.6 1461V1446.1M95.8 1461V1458.4M515.3 1461V1460.6M508.6 1461V1451.7M670.9 1461V1453.8M645.8 1461V1459.3M365 1461V1443.6M266.9 1461V1459.2M318.7 1461V1449.3M180.7 1461V1457.2M27 1461V1458.9M138.9 1461V1443.7M218.7 1461V1450.1M433.6 1461V1456.8M363.4 1461V1455.2M53.8 1461V1453.9M434.9 1461V1435.8M704.3 1461V1453.5M362.2 1461V1443.5M390.1 1461V1458.6M513.9 1461V1436.8M245.6 1461V1459.8M101.4 1461V1454.1M634 1461V1455.4M469.7 1461V1432.2M224.9 1461V1444.6M208 1461V1454.9M251.3 1461V1428.9M62.8 1461V1449.8M328.2 1461V1452.8M247.1 1461V1457.7M676.7 1461V1459.4M685 1461V1448.9M339.4 1461V1459M143.4 1461V1459.4M597.3 1461V1446.8M28.1 1461V1452.3M163.6 1461V1442.6M294.3 1461V1449.6M547.2 1461V1455.7M589.5 1461V1457.3M306.2 1461V1448.1M292.2 1461V1452.2M364.1 1461V1453M667.5 1461V1448.3M418.8 1461V1442.8M424.8 1461V1453.2M499.3 1461V1450.7M122.3 1461V1448.1M218.4 1461V1442.6M674.1 1461V1455.8M103.6 1461V1382.5M108 1461V1394.5M127.6 1461V1399.6M122 1461V1407.2M134.4 1461V1403M135.8 1461V1403M184.2 1461V1402.6M44.5 1461V1409.7M58.9 1461V1409.7M55.5 1461V1411.6M76.5 1461V1409.7M81.9 1461V1411.6M89 1461V1409.7M93 1461V1407.2M72.5 1461V1414.5M39.8 1461V1414.5M35.8 1461V1420.7M97 1461V1417M161.1 1461V1420.7M156.1 1461V1422.6M168.1 1461V1424.3M25.8 1461V1424.3M194.2 1461V1424.3M177.1 1461V1427.5M358.7 1461V1350.7M358.7 1461V1431.7M285 1461V1392.5M292 1461V1397.4M340.7 1461V1392.5M330.1 1461V1394.5M330.7 1461V1402.6M332.1 1461V1409.7M203.8 1461V1404.8M206.2 1461V1406.7M252.5 1461V1406.7M255.9 1461V1406.7M318.1 1461V1411.6M372.6 1461V1402.6M367.8 1461V1411.6M345.7 1461V1414.5M263.9 1461V1417M280.4 1461V1417M289 1461V1414.5M277 1461V1424.3M263.5 1461V1422.6M206.8 1461V1424.3M215.4 1461V1429.2M299.4 1461V1429.2M320.1 1461V1427.5M379.2 1461V1404.8M434.9 1461V1394.5M457 1461V1389.8M463 1461V1387.4M487.6 1461V1394.5M516.5 1461V1399.6M525.3 1461V1394.5M533.1 1461V1404.8M550.2 1461V1387.4M559.2 1461V1385.2M451.4 1461V1407.2M471.8 1461V1409.7M473.1 1461V1409.7M468 1461V1411.6M441.9 1461V1414.5M403.5 1461V1414.5M382.8 1461V1412.1M383.4 1461V1417M390.8 1461V1424.3M455 1461V1420.7M490.4 1461V1420.7M513.7 1461V1417M519.5 1461V1420.7M536.7 1461V1420.7M546.8 1461V1422.6M557.2 1461V1422.6M484 1461V1424.3M493.1 1461V1427.5M417.9 1461V1429.2M425.9 1461V1429.2M505.1 1461V1432.1M577.2 1461V1368.1M577.2 1461V1407.2M566.8 1461V1404.8M591.5 1461V1409.7M602.5 1461V1402.6M599.9 1461V1417M623.4 1461V1392.5M615.5 1461V1409.7M620.9 1461V1412.1M630.8 1461V1404.8M632.2 1461V1404.8M638.4 1461V1409.7M644 1461V1409.7M647 1461V1389.8M653 1461V1407.2M657.4 1461V1407.2M663 1461V1414.5M673.7 1461V1414.5M688.5 1461V1409.7M697.3 1461V1382.5M703.3 1461V1402.6M710.1 1461V1409.7M695.1 1461V1417M705.5 1461V1420.7M722.3 1461V1422.6M725.3 1461V1422.6M558.4 1461V1422.6M566.8 1461V1427.5M606.9 1461V1429.9M675.7 1461V1422.6M687.1 1461V1427.5M648.6 1461V1422.6M637 1461V1427.5M616.5 1461V1424.3" stroke="#000" stroke-width="1.7" fill="none"/>
<path d="M316.5 1428.1h2.2M602.6 1446.5h2.2M282.8 1442.9h2.2M421.1 1441.4h2.2M111.8 1450.3h2.2M418.4 1442h2.2M412.2 1448.3h2.2M695.6 1437.1h2.2M710 1449.8h2.2M377.7 1440.6h2.2M528.2 1442.7h2.2M264 1430h2.2M150 1437.7h2.2M187.7 1452.2h2.2M589.9 1444.4h2.2M636.2 1443.8h2.2M586.3 1452.8h2.2M154.9 1453.3h2.2M53.9 1441.5h2.2M130 1444.3h2.2M402.3 1441.1h2.2M251.5 1433.4h2.2M523.1 1436.2h2.2M557.8 1451.3h2.2M67.9 1454.1h2.2M252.9 1453.7h2.2M513.9 1452.8h2.2M80.8 1441.5h2.2M702.1 1444.3h2.2M139.3 1446.2h2.2M400.9 1452.1h2.2M27.1 1426.2h2.2M372.1 1442.5h2.2M91.9 1451.8h2.2M693.3 1449.9h2.2M43.9 1447.5h2.2M301.2 1442.2h2.2M500.9 1452.1h2.2M199.1 1449.8h2.2M509.3 1447.4h2.2M72.2 1450.9h2.2M161.4 1454h2.2M166.2 1439.9h2.2M650.8 1447.5h2.2M229.5 1452.4h2.2M583.8 1445.3h2.2M323.7 1448.5h2.2M386.6 1453.1h2.2M465.4 1435.2h2.2M505.1 1449.5h2.2M339.3 1445.5h2.2M541 1451.3h2.2M210.4 1431h2.2M498.2 1454.1h2.2M678.7 1431.2h2.2M446.6 1442.6h2.2M302.7 1442.4h2.2M77.7 1446.6h2.2M573.9 1432.5h2.2M157.6 1436.4h2.2M597.3 1444.4h2.2M321.9 1428.6h2.2M104.4 1452h2.2M578.9 1447.9h2.2M248.4 1432.5h2.2M94.6 1440.7h2.2M169.2 1453h2.2M89.1 1452.2h2.2M409.5 1454.8h2.2M312 1452.2h2.2M569.4 1440.8h2.2M397 1453.3h2.2M572.1 1441.5h2.2M315.1 1430.2h2.2M485.6 1428.9h2.2M354.1 1433.1h2.2M112.6 1452.9h2.2M64.5 1438.3h2.2M691.5 1437.5h2.2M241.1 1443.8h2.2M92.3 1451.7h2.2M66 1443.9h2.2M138.3 1453.3h2.2M655 1452.7h2.2M676.6 1454.4h2.2M619.5 1428.7h2.2M562.6 1452.9h2.2M110.4 1445.5h2.2M182.6 1448.7h2.2M418.4 1454.7h2.2M100.7 1431.1h2.2M282.5 1449.5h2.2M504.4 1450h2.2M102.5 1445h2.2M237.5 1453h2.2M703.8 1449.1h2.2M424.1 1454.3h2.2M583.5 1454.2h2.2M166 1454.1h2.2M44.5 1449.4h2.2M175.6 1452.9h2.2M200.1 1437.2h2.2M580.7 1445h2.2M416.7 1428.9h2.2M574.5 1447.5h2.2M114.7 1453.7h2.2M239.4 1446.1h2.2M171.9 1449.3h2.2M502.5 1449.5h2.2M592.2 1453h2.2M718.2 1451.7h2.2M400.9 1454.8h2.2M666.8 1441.2h2.2M211.3 1447h2.2M313.8 1449.3h2.2M89.7 1449.2h2.2M185.8 1454h2.2M550.7 1441.1h2.2M34.8 1441.3h2.2M296 1447h2.2M464 1447.1h2.2M52.3 1444.8h2.2M445.3 1450.8h2.2M267.7 1449.3h2.2M582.5 1439.7h2.2M340.9 1428.3h2.2M553.5 1444.3h2.2M708.6 1444.1h2.2M380.7 1451.5h2.2M604.1 1453.5h2.2M641.7 1447.2h2.2M93.1 1442.5h2.2M571.6 1439.2h2.2M69.7 1454.9h2.2M25.6 1447.7h2.2M436.3 1454.7h2.2M707.2 1446.9h2.2M245.4 1429.5h2.2M109.6 1450.4h2.2M474.1 1444.5h2.2M495.5 1451.7h2.2M123.5 1443h2.2M673.3 1433.2h2.2M580 1444.4h2.2M122.4 1431.9h2.2M289.5 1453.2h2.2M495.9 1452h2.2M369.3 1438h2.2M264.3 1443.6h2.2M161.9 1447.6h2.2M74.3 1441.4h2.2M355.7 1452.7h2.2M415.2 1439.7h2.2M42 1440.6h2.2M654.6 1440h2.2M503.5 1452.8h2.2M387.2 1448.6h2.2M305.6 1443.2h2.2M473.2 1441.8h2.2M587.1 1442.5h2.2M488.5 1453.3h2.2M582.7 1449.8h2.2M339.3 1439h2.2M205.5 1439.7h2.2M544.5 1454.4h2.2M323.7 1445.9h2.2M489.5 1452.8h2.2M578.4 1453.4h2.2M209.2 1448.8h2.2M241.7 1446.3h2.2M454.5 1450.7h2.2M364.7 1438.1h2.2M357.1 1453.3h2.2M270.1 1451.9h2.2M588.2 1443.5h2.2M117.2 1454.5h2.2M604.5 1437.9h2.2M662 1445.4h2.2M605.3 1446.5h2.2M614 1428.5h2.2M450.8 1444.1h2.2M470 1430.3h2.2M478 1437.7h2.2M335.4 1435.4h2.2M293.4 1441.1h2.2M254.4 1451.1h2.2M486.3 1454.3h2.2M312.5 1440.4h2.2M504.6 1448.3h2.2M679.3 1449.2h2.2M34.5 1447.9h2.2M696.7 1451.3h2.2M601 1448.6h2.2M450.8 1435.9h2.2M166.6 1438h2.2M306.6 1447.3h2.2M415.4 1454.6h2.2M192.8 1445.6h2.2M42 1439h2.2M156.6 1449.7h2.2M33.8 1453.4h2.2M319.4 1447.6h2.2M297.8 1445.7h2.2M310.5 1442.5h2.2M659.7 1448.6h2.2M348 1452.6h2.2M387.5 1450.3h2.2M116.8 1432.7h2.2M140.6 1441h2.2M683.5 1453h2.2M44 1447.2h2.2M314.2 1452.6h2.2M209.7 1447.3h2.2M425.4 1437h2.2M213 1447.2h2.2M573.2 1448h2.2M508.5 1452.3h2.2M509.6 1447.8h2.2M537.3 1453.1h2.2M194.5 1448.2h2.2M689.9 1437.5h2.2M42 1448.2h2.2M502.8 1450.4h2.2M125 1453.3h2.2M464.2 1442.9h2.2M720.3 1454.6h2.2M247.2 1447.9h2.2M26.5 1444.3h2.2M432.9 1444.4h2.2M351.4 1439.9h2.2M454.9 1447.3h2.2M93.8 1439.8h2.2M254.8 1450.3h2.2M707.9 1447.6h2.2M482.4 1448.1h2.2M294.8 1450.1h2.2M336.1 1438.7h2.2M474.2 1452.8h2.2M715.9 1445.8h2.2M379.2 1453h2.2M210.6 1451.4h2.2M485.7 1430.5h2.2M194.9 1434.7h2.2M339 1431.4h2.2M387.5 1452.9h2.2M89.4 1447.2h2.2M436.7 1452.8h2.2M120.7 1450h2.2M686.1 1442.9h2.2M658.1 1451.1h2.2M275.8 1444.1h2.2M404.4 1454.5h2.2M31.6 1447.8h2.2M217.3 1428.4h2.2M244 1445.2h2.2M101 1445.2h2.2M627.2 1443.8h2.2M118.9 1442.5h2.2M638.4 1437.2h2.2M578 1436.6h2.2M640.7 1438.3h2.2M421.9 1450h2.2M652.5 1441.5h2.2M64.7 1443.1h2.2M483 1453.6h2.2M482.8 1449.5h2.2M497.9 1435.6h2.2M254.4 1450.8h2.2M239.8 1443.1h2.2M29.2 1450h2.2M33.2 1438.6h2.2M74.4 1452.9h2.2M91.1 1449.4h2.2M222.4 1437.9h2.2M287.2 1450.3h2.2M429.8 1448h2.2M73 1447.5h2.2M510.8 1426.4h2.2M390.2 1429.2h2.2M629.9 1443h2.2M398.4 1437.1h2.2M650.6 1427.7h2.2M589 1433.4h2.2M527.3 1453.6h2.2M538.2 1436.8h2.2M629.4 1436.9h2.2M192 1445.7h2.2M506.2 1449.3h2.2M295 1451.7h2.2M616.5 1446h2.2M61.5 1437.4h2.2M198 1454.5h2.2M557.2 1454.8h2.2M76.6 1429.4h2.2M350 1445.4h2.2M169.8 1439.1h2.2M667.9 1450h2.2M335.5 1446.9h2.2M586.7 1445.1h2.2M620.5 1445.1h2.2M218.6 1445.7h2.2M474.4 1445.4h2.2M85.8 1445.3h2.2M576.8 1429.2h2.2M398.3 1447.3h2.2M226.8 1447.7h2.2M439.1 1441.7h2.2M553.1 1448.4h2.2M199 1453.3h2.2M335.1 1454.3h2.2M387.4 1430.6h2.2M364.2 1441.3h2.2M237.2 1442.8h2.2M233 1446.7h2.2M113.2 1450.4h2.2M679.9 1435.8h2.2M592.5 1439.4h2.2M543.2 1452h2.2M443.9 1447.3h2.2M82.4 1429h2.2M516.3 1446.4h2.2M117.4 1446.8h2.2M356.8 1439.5h2.2M308.6 1449.1h2.2M30.3 1449.8h2.2M331.1 1449.8h2.2M54.9 1454.4h2.2M243.6 1450.1h2.2M611.5 1443.3h2.2M383 1445.5h2.2M452 1452.6h2.2M492.1 1437.4h2.2M575.5 1451.7h2.2M665.7 1441h2.2M68.7 1454.6h2.2M706.2 1440.3h2.2M209.5 1443.6h2.2M684.2 1454.7h2.2M225 1452.9h2.2M410.9 1440.5h2.2M383.1 1452.8h2.2M551.4 1442.8h2.2M411 1433.4h2.2M714.5 1429.8h2.2M403.6 1442h2.2M217.2 1449.5h2.2M202 1445.4h2.2M240.9 1451.7h2.2M694.5 1443.5h2.2M145.7 1432.8h2.2M606.4 1440.7h2.2M439.3 1453.8h2.2M435.1 1450.5h2.2M33.6 1441.5h2.2M361.7 1436.4h2.2M441.4 1442.7h2.2M504.2 1449.6h2.2M485.3 1445.4h2.2M602.8 1443.6h2.2M578.4 1449.9h2.2M660.7 1452.9h2.2M64.3 1453.4h2.2M371.9 1428.9h2.2M554.1 1442.5h2.2M524.2 1433.2h2.2M633.5 1446.4h2.2M704.7 1433.3h2.2M544.7 1437.8h2.2M383.5 1452.9h2.2M178.8 1448.5h2.2M128.7 1449.3h2.2M121.4 1454.3h2.2M370 1448.3h2.2M278.7 1436.4h2.2M270.5 1440.6h2.2M693.9 1444.1h2.2M417.1 1449.8h2.2M121.5 1448.7h2.2M576.8 1452.5h2.2M625.4 1428.8h2.2M100.3 1450.2h2.2M474.4 1449.7h2.2M621.9 1454.6h2.2M539.9 1452.9h2.2M237.3 1443.6h2.2M700 1444.6h2.2M339.4 1452.6h2.2M316.4 1452.6h2.2M284.5 1453.3h2.2M699 1450h2.2M129.5 1443.2h2.2M181 1452.9h2.2M674.1 1450h2.2M710.3 1435.2h2.2M232.3 1448.4h2.2M159.1 1443.8h2.2M563.6 1450.5h2.2M241.4 1448.5h2.2M248.6 1445.6h2.2M661.1 1442.8h2.2M98.1 1447.6h2.2M690 1450h2.2M55.1 1433.1h2.2M589.5 1448.8h2.2M144.1 1446h2.2M326 1451.8h2.2M164.8 1452.2h2.2M84.1 1448.5h2.2M245.8 1449.1h2.2M122.4 1425.5h2.2M690 1442.5h2.2M585.7 1442.2h2.2M343.5 1452.6h2.2M154.2 1446h2.2M122.3 1426.5h2.2M178.9 1450.3h2.2M300.4 1452h2.2M174.8 1433.2h2.2M431.1 1450.7h2.2M128.6 1453.8h2.2M374.6 1435.3h2.2M375.6 1447.8h2.2M32.1 1450.6h2.2M167.6 1438.2h2.2M505.5 1452.7h2.2M638.7 1448.6h2.2M211.3 1450.7h2.2M365.4 1448.4h2.2M635.2 1449.8h2.2M517.3 1445.8h2.2M335.2 1444.9h2.2M391.4 1443.5h2.2M74.4 1445.5h2.2M85.8 1446.6h2.2M254.7 1446.9h2.2M362.4 1428.8h2.2M353.5 1436.6h2.2M334.3 1447.6h2.2M185.4 1444.9h2.2M565 1453.4h2.2M627.6 1451.3h2.2M77.2 1448.2h2.2M114 1454.3h2.2M111.7 1436.9h2.2M226.7 1450.8h2.2M406.6 1449.4h2.2M348.5 1451.3h2.2M387.1 1432.3h2.2M630.7 1443.4h2.2M103.4 1444.5h2.2M640.2 1450.5h2.2M710.5 1451.6h2.2M594.6 1450.1h2.2M68.4 1444.2h2.2M426.9 1443.2h2.2M245.3 1452.7h2.2M723.1 1446.6h2.2M611.6 1440.8h2.2M70.4 1439.8h2.2M246.1 1452.1h2.2M192.9 1439.3h2.2M103 1448.6h2.2M68.4 1452.5h2.2M45.3 1452.1h2.2M246.7 1432.4h2.2M40.3 1453.2h2.2M523.2 1442.3h2.2M424.6 1436.7h2.2M157.2 1451h2.2M657.1 1445.6h2.2M572.8 1436.1h2.2M632.4 1446.3h2.2M312.7 1447.6h2.2M159.5 1447.5h2.2M612.4 1453.1h2.2M615.6 1453h2.2M499 1452.8h2.2M173.4 1451.5h2.2M266 1444.3h2.2M406.2 1445.8h2.2M280.4 1446.5h2.2M576.1 1452.1h2.2M688.1 1453.6h2.2M612.4 1453.7h2.2M537.1 1442.9h2.2M503.9 1446.2h2.2M92.7 1439.7h2.2M191.1 1452.5h2.2M332.7 1441.8h2.2M511.6 1446.7h2.2M558.4 1433.2h2.2M341.5 1447.2h2.2M484.3 1447h2.2M514.5 1433.1h2.2M660.5 1454.6h2.2M543.3 1447h2.2M87.7 1454.4h2.2M615.6 1443.4h2.2M203.8 1453.8h2.2M224 1451.4h2.2M397.8 1449.3h2.2M111.4 1446.1h2.2M640.6 1453.7h2.2M697.6 1453.4h2.2M352.8 1449.5h2.2M719.7 1440.7h2.2M505.3 1446.8h2.2M418.8 1434.7h2.2M130 1432.3h2.2M616.9 1439.9h2.2M285.6 1447.5h2.2M512.6 1435.7h2.2M31.1 1441.9h2.2M422.6 1448.2h2.2M78.1 1446.1h2.2M524.4 1429.2h2.2M609.5 1438.2h2.2M304.7 1450h2.2M45.7 1438.2h2.2M646.9 1446.6h2.2M484.8 1454.9h2.2M661.7 1453.4h2.2M572 1446h2.2M616.2 1447.6h2.2M237.7 1452.9h2.2M452.9 1451h2.2M305.5 1449.2h2.2M711.3 1447h2.2M507.4 1447.2h2.2M341.7 1452.3h2.2M689.9 1452.5h2.2M97.6 1450.4h2.2M331 1449.5h2.2M678.7 1453.2h2.2M70.1 1451.5h2.2M163.3 1452.8h2.2M75.8 1451h2.2M226.7 1438.3h2.2M616.2 1454.6h2.2M271.1 1452.3h2.2M338.1 1434.4h2.2M255.7 1431.7h2.2M571.9 1446.4h2.2M72.3 1444.8h2.2M619 1453.1h2.2M667.7 1453.2h2.2M670.1 1435.3h2.2M617.3 1451.2h2.2M465.2 1446.2h2.2M535.9 1453.2h2.2M718 1452.3h2.2M340.6 1439.6h2.2M698.6 1451.6h2.2M142.4 1443.2h2.2M593.8 1431.8h2.2M515.4 1447.5h2.2M230 1446.3h2.2M547 1446.3h2.2M147.5 1451h2.2M388.2 1444.5h2.2M715.1 1451.4h2.2M50.5 1451.8h2.2M377.9 1446.5h2.2M86.9 1453.8h2.2M188.7 1449.2h2.2M485.8 1439.8h2.2M129.9 1436.9h2.2M107.8 1446h2.2M488.9 1434.2h2.2M67.3 1442.7h2.2M568.6 1445h2.2M547.9 1441.5h2.2M472.4 1442h2.2M350.7 1445.1h2.2M251.1 1447.6h2.2M661.5 1442.5h2.2M658.5 1454h2.2M672.6 1450.8h2.2M371.5 1450.7h2.2M378 1449.4h2.2M377.5 1451h2.2M380.1 1432.5h2.2M591 1450.3h2.2M425.2 1444.7h2.2M414.8 1454.7h2.2M418.8 1443h2.2M219.6 1432.4h2.2M319.2 1453.2h2.2M293.7 1451.1h2.2M166 1452.3h2.2M176.5 1444h2.2M325.1 1454.4h2.2M385.2 1444.2h2.2M173.7 1439h2.2M632.4 1447.9h2.2M417.8 1451.5h2.2M383.1 1447h2.2M141.7 1446.6h2.2M563.9 1450h2.2M174.4 1435h2.2M37 1453.9h2.2M686.9 1444.6h2.2M378.7 1450.1h2.2M645 1453.3h2.2M335.4 1446.7h2.2M286.5 1434.4h2.2M217.7 1434.1h2.2M398.1 1449.7h2.2M30.6 1453.2h2.2M93.1 1450.8h2.2M432.4 1444.9h2.2M553.1 1445.2h2.2M631.2 1449.3h2.2M505.8 1450.7h2.2M248.8 1437.3h2.2M453.1 1433.6h2.2M352.9 1449.6h2.2M229.4 1445.1h2.2M580.8 1446.8h2.2M441.3 1454.2h2.2M530.5 1454.1h2.2M69 1440.4h2.2M577 1445.4h2.2M422.8 1433.8h2.2M431.7 1446.2h2.2M54.1 1428.7h2.2M191.9 1452h2.2M551.5 1431.2h2.2M380.1 1447.7h2.2M83.7 1444.9h2.2M141.7 1452.4h2.2M279.4 1441h2.2M309.3 1452.3h2.2M282.3 1454.6h2.2M301.6 1450.6h2.2M72.6 1429.8h2.2M267.9 1447.1h2.2M235.5 1444.2h2.2M326.6 1447.6h2.2M313.1 1452.2h2.2M333.2 1442.1h2.2M112.7 1446.3h2.2M508.2 1432.5h2.2M223 1449.1h2.2M582.4 1430.6h2.2M216.5 1454.4h2.2M28.1 1446.9h2.2M540.1 1451h2.2M544.7 1444.9h2.2M524.3 1441.1h2.2M68.6 1446h2.2M73.1 1449.7h2.2M721.7 1437.2h2.2M693.7 1435.7h2.2M405.3 1450.6h2.2M503.3 1446.1h2.2M91.5 1442h2.2M181.7 1452.4h2.2M242 1451.1h2.2M66.5 1446.6h2.2M28.4 1439h2.2M485.8 1452.8h2.2M348.4 1430.3h2.2M555.9 1437.6h2.2M514.2 1449.6h2.2M635.6 1437.6h2.2M270.8 1432.7h2.2M681.2 1453.9h2.2M262 1441.4h2.2M648.7 1448.3h2.2M112.9 1451.1h2.2M647.2 1434.5h2.2M352 1454.6h2.2M435.8 1450.4h2.2M118.4 1452.5h2.2M393.7 1448h2.2M381.3 1448.9h2.2M441.7 1435.2h2.2M126.6 1450.8h2.2M83.1 1443.3h2.2M192.1 1445.1h2.2M478.5 1449.7h2.2M627.6 1430.8h2.2M321.4 1454.7h2.2M168.2 1451.6h2.2M654.7 1442.5h2.2M54.7 1450.1h2.2M147.1 1431.7h2.2M300.7 1454.3h2.2M222 1445.8h2.2M657.3 1433.9h2.2M441.8 1440h2.2M556 1438.7h2.2M610.4 1446.3h2.2M676.9 1454.2h2.2M564.1 1443.3h2.2M495.2 1454.8h2.2M305 1452.8h2.2M373.8 1437.8h2.2M175.2 1439.9h2.2M157.9 1437h2.2M383.5 1443.2h2.2M634.8 1452.3h2.2M308.9 1452.9h2.2M68.5 1452.7h2.2M417.2 1443.8h2.2M151 1450.4h2.2M521.2 1447.5h2.2M211.5 1453.5h2.2M530.3 1446h2.2M673.7 1445h2.2M394.2 1453.2h2.2M54.9 1447.2h2.2M31.2 1450h2.2M518.9 1449.2h2.2M418.9 1441.5h2.2M168.6 1447.6h2.2M571.1 1446.9h2.2M611.3 1448.1h2.2M577.1 1444h2.2M653.9 1447.9h2.2M55.3 1428.4h2.2M281 1449.6h2.2M456.7 1446.8h2.2M559.5 1445.4h2.2M72.4 1447.1h2.2M442 1453.2h2.2M247.8 1449h2.2M199.4 1443.3h2.2M651.9 1447.6h2.2M590.3 1434.2h2.2M377.7 1454.6h2.2M518.1 1451h2.2M145.5 1452.5h2.2M643.3 1446.4h2.2M271 1454.7h2.2M317.1 1441.5h2.2M359.6 1434.6h2.2M80.8 1450.2h2.2M62.2 1448h2.2M446.6 1453h2.2M458.9 1453.1h2.2M700.2 1444.1h2.2M379.1 1435.9h2.2M559.8 1452.6h2.2M701 1438.7h2.2M401.5 1445.6h2.2M185.7 1439.7h2.2M307.5 1445.7h2.2M189.3 1434.8h2.2M144.1 1453.1h2.2M137.2 1449.3h2.2M598.4 1454.3h2.2M562.2 1440.9h2.2M586.5 1441.8h2.2M46.3 1451.3h2.2M477.2 1454.3h2.2M365.2 1442.4h2.2M421.8 1451.2h2.2M25.5 1445.4h2.2M422.4 1448.2h2.2M697.1 1445.2h2.2M723.4 1453.4h2.2M476.2 1444.5h2.2M670.6 1440.4h2.2M586.9 1443.7h2.2M689.4 1443.9h2.2M173.5 1444.6h2.2M357.8 1442.2h2.2M264.2 1445.2h2.2M119.9 1443.4h2.2M216 1447h2.2M517.5 1434.4h2.2M193.8 1454.3h2.2M375.3 1448.6h2.2M670.8 1452h2.2M293 1442.6h2.2M101.4 1447h2.2M362.5 1448.2h2.2M226.2 1440h2.2M226.4 1446.9h2.2M377.2 1442.7h2.2M392.1 1451.7h2.2M123.2 1453.2h2.2M404.1 1444.9h2.2M526.4 1444.6h2.2M618.8 1445.9h2.2M172.3 1445.9h2.2M512.7 1449h2.2M416 1448.9h2.2M437.8 1449.7h2.2M701.1 1445.4h2.2M386.4 1440.3h2.2M659.9 1447.2h2.2M479 1430.9h2.2M529.3 1453.2h2.2M296.9 1445.7h2.2M83 1444.6h2.2M324.9 1450.1h2.2M31.9 1442.2h2.2M223.7 1442.1h2.2M354.1 1447.7h2.2M76.6 1453.4h2.2M666.1 1434.1h2.2M644.3 1451.8h2.2M654.8 1451h2.2M710.6 1447.1h2.2M159.7 1454.3h2.2M707.8 1445.2h2.2M505.5 1445.5h2.2M285.3 1453.8h2.2M563.8 1451.6h2.2M676.3 1454.8h2.2M49.5 1453.8h2.2M49.3 1444.7h2.2M399.4 1449.7h2.2M505.1 1449.7h2.2M591.8 1452.7h2.2M440 1453.8h2.2M376.5 1452.3h2.2M29.1 1440.7h2.2M243.6 1444.3h2.2M334.5 1441.4h2.2M483.4 1442.1h2.2M234.6 1443.2h2.2M499.4 1451.8h2.2M150.4 1445.4h2.2M96.9 1453.5h2.2M414.5 1445h2.2M721.7 1449.4h2.2M383.7 1451h2.2M448.9 1451.2h2.2M327.9 1432.9h2.2M583.5 1452.7h2.2M524.4 1434.3h2.2M355.8 1447.9h2.2M511.9 1435.5h2.2M626 1454.1h2.2M55.7 1453.1h2.2M664.1 1451.4h2.2M664.8 1433.1h2.2M603 1442.8h2.2M27.6 1451.4h2.2M682 1442.3h2.2M391.7 1454h2.2M377.8 1435.8h2.2M514.4 1451.5h2.2M598 1437.9h2.2M384.8 1451.3h2.2M670.2 1443.9h2.2M247.1 1441.7h2.2M274.6 1449.5h2.2M576.7 1454.4h2.2M396.2 1437.3h2.2M282.2 1448.2h2.2M130.7 1454.1h2.2M660.3 1443.6h2.2M219.1 1454.4h2.2M194.6 1435.7h2.2M702.4 1438.6h2.2M687.7 1443.7h2.2M328.9 1445.9h2.2M681.1 1453.6h2.2M109.4 1439.7h2.2M439.3 1439.4h2.2M216.5 1453.1h2.2M464.9 1453.6h2.2M260.9 1452.7h2.2M669.8 1452.7h2.2M142.8 1453h2.2M546.4 1436.1h2.2M628.6 1451.2h2.2M175 1444h2.2M598.4 1449.8h2.2M715.3 1444h2.2M557.4 1442.4h2.2M248.4 1436.3h2.2M414.6 1452.3h2.2M617.9 1447.9h2.2M318.6 1440.9h2.2M433.7 1449.1h2.2M512 1446.7h2.2M277.2 1454.7h2.2M129.9 1444.5h2.2M110.1 1449.7h2.2M342.1 1449.6h2.2M513.7 1444.9h2.2M543.9 1428h2.2M247.4 1444h2.2M549.8 1428.5h2.2M546.6 1440.3h2.2M153.9 1451h2.2M450.4 1445.1h2.2M700.9 1440.4h2.2M354.7 1448.6h2.2M302.4 1437.7h2.2M658.2 1439.2h2.2M60.9 1429h2.2M251.3 1442.7h2.2M221.1 1450.2h2.2M454.4 1445.5h2.2M570.7 1449.1h2.2M42 1443.8h2.2M597.6 1434.1h2.2M575 1446h2.2M231.3 1450.3h2.2M716.8 1427.2h2.2M330.7 1453.9h2.2M338.4 1449.2h2.2M653.3 1451.9h2.2M131.3 1449.1h2.2M302.5 1446.1h2.2M507.5 1451.7h2.2M669.8 1453.8h2.2M363.9 1443.6h2.2M317.6 1449.3h2.2M137.8 1443.7h2.2M217.6 1450.1h2.2M52.7 1453.9h2.2M433.8 1435.8h2.2M703.2 1453.5h2.2M361.1 1443.5h2.2M512.8 1436.8h2.2M100.3 1454.1h2.2M468.6 1432.2h2.2M223.8 1444.6h2.2M250.2 1428.9h2.2M61.7 1449.8h2.2M327.1 1452.8h2.2M683.9 1448.9h2.2M596.2 1446.8h2.2M27 1452.3h2.2M162.5 1442.6h2.2M293.2 1449.6h2.2M305.1 1448.1h2.2M291.1 1452.2h2.2M363 1453h2.2M666.4 1448.3h2.2M417.7 1442.8h2.2M423.7 1453.2h2.2M498.2 1450.7h2.2M121.2 1448.1h2.2M217.3 1442.6h2.2M102.5 1382.5h2.2M106.9 1394.5h2.2M126.5 1399.6h2.2M120.9 1407.2h2.2M133.3 1403h2.2M134.7 1403h2.2M183.1 1402.6h2.2M43.4 1409.7h2.2M57.8 1409.7h2.2M54.4 1411.6h2.2M75.4 1409.7h2.2M80.8 1411.6h2.2M87.9 1409.7h2.2M91.9 1407.2h2.2M71.4 1414.5h2.2M38.7 1414.5h2.2M34.7 1420.7h2.2M95.9 1417h2.2M160 1420.7h2.2M155 1422.6h2.2M167 1424.3h2.2M24.7 1424.3h2.2M193.1 1424.3h2.2M176 1427.5h2.2M357.6 1350.7h2.2M357.6 1431.7h2.2M283.9 1392.5h2.2M290.9 1397.4h2.2M339.6 1392.5h2.2M329 1394.5h2.2M329.6 1402.6h2.2M331 1409.7h2.2M202.7 1404.8h2.2M205.1 1406.7h2.2M251.4 1406.7h2.2M254.8 1406.7h2.2M317 1411.6h2.2M371.5 1402.6h2.2M366.7 1411.6h2.2M344.6 1414.5h2.2M262.8 1417h2.2M279.3 1417h2.2M287.9 1414.5h2.2M275.9 1424.3h2.2M262.4 1422.6h2.2M205.7 1424.3h2.2M214.3 1429.2h2.2M298.3 1429.2h2.2M319 1427.5h2.2M378.1 1404.8h2.2M433.8 1394.5h2.2M455.9 1389.8h2.2M461.9 1387.4h2.2M486.5 1394.5h2.2M515.4 1399.6h2.2M524.2 1394.5h2.2M532 1404.8h2.2M549.1 1387.4h2.2M558.1 1385.2h2.2M450.3 1407.2h2.2M470.7 1409.7h2.2M472 1409.7h2.2M466.9 1411.6h2.2M440.8 1414.5h2.2M402.4 1414.5h2.2M381.7 1412.1h2.2M382.3 1417h2.2M389.7 1424.3h2.2M453.9 1420.7h2.2M489.3 1420.7h2.2M512.6 1417h2.2M518.4 1420.7h2.2M535.6 1420.7h2.2M545.7 1422.6h2.2M556.1 1422.6h2.2M482.9 1424.3h2.2M492 1427.5h2.2M416.8 1429.2h2.2M424.8 1429.2h2.2M504 1432.1h2.2M576.1 1368.1h2.2M576.1 1407.2h2.2M565.7 1404.8h2.2M590.4 1409.7h2.2M601.4 1402.6h2.2M598.8 1417h2.2M622.3 1392.5h2.2M614.4 1409.7h2.2M619.8 1412.1h2.2M629.7 1404.8h2.2M631.1 1404.8h2.2M637.3 1409.7h2.2M642.9 1409.7h2.2M645.9 1389.8h2.2M651.9 1407.2h2.2M656.3 1407.2h2.2M661.9 1414.5h2.2M672.6 1414.5h2.2M687.4 1409.7h2.2M696.2 1382.5h2.2M702.2 1402.6h2.2M709 1409.7h2.2M694 1417h2.2M704.4 1420.7h2.2M721.2 1422.6h2.2M724.2 1422.6h2.2M557.3 1422.6h2.2M565.7 1427.5h2.2M605.8 1429.9h2.2M674.6 1422.6h2.2M686 1427.5h2.2M647.5 1422.6h2.2M635.9 1427.5h2.2M615.4 1424.3h2.2" stroke="#000" stroke-width="2.9" stroke-linecap="round" fill="none"/>
<path d="M684.9 1457.4v2M238.7 1467.8v2.4M319.8 1477.4v4.2M627.4 1465.8v2.3M444 1466.8v2.3M535.6 1473.4v2.3M605.8 1462.7v1.7M259.9 1467.3v1.6M543.6 1464.9v2.3M257.4 1475v1.7M426.4 1466.7v3.9M586 1462.4v3M191.2 1469.1v4.1M573.7 1462v4.1M611.6 1473.4v4.2M706.4 1465.6v3M608.8 1460.6v4.1M353.7 1459.1v2.5M337.2 1467.8v3.1M45.9 1474v4M50 1458.7v4.2M352.9 1458.7v4.2M294.8 1461.3v1.7M303 1475.3v2.1M709.2 1464.5v2.1M93.3 1459.5v4.3M717.5 1478.2v3.8M239.6 1474.8v2.7M240.5 1457.7v1.5M281.5 1475.5v3.5M371.1 1468v4.1M439 1467.4v4M437.4 1458.4v3.3M533.1 1467.1v1.4M434.9 1459v3.6M695.8 1473.4v4M142.7 1479v1.1M171.2 1474.1v3.7M382.6 1459v2.3M131.2 1472.6v1.7M563.6 1457.5v2.9M412.7 1466.2v3.4M608 1460.2v2.6M377.4 1468.5v1.6M78.2 1460.2v2.5" stroke="#fff" stroke-width="0.9" fill="none"/>
<line x1="82.5" y1="1348.5" x2="82.5" y2="1483" stroke="#9d9d9d" stroke-width="1" stroke-opacity="0.5"/>
<line x1="141.5" y1="1348.5" x2="141.5" y2="1483" stroke="#9d9d9d" stroke-width="1" stroke-opacity="0.5"/>
<line x1="199.5" y1="1348.5" x2="199.5" y2="1483" stroke="#9d9d9d" stroke-width="1" stroke-opacity="0.5"/>
<line x1="258.5" y1="1348.5" x2="258.5" y2="1483" stroke="#9d9d9d" stroke-width="1" stroke-opacity="0.5"/>
<line x1="316.5" y1="1348.5" x2="316.5" y2="1483" stroke="#9d9d9d" stroke-width="1" stroke-opacity="0.5"/>
<line x1="434.5" y1="1348.5" x2="434.5" y2="1483" stroke="#9d9d9d" stroke-width="1" stroke-opacity="0.5"/>
<line x1="492.5" y1="1348.5" x2="492.5" y2="1483" stroke="#9d9d9d" stroke-width="1" stroke-opacity="0.5"/>
<line x1="551.5" y1="1348.5" x2="551.5" y2="1483" stroke="#9d9d9d" stroke-width="1" stroke-opacity="0.5"/>
<line x1="609.5" y1="1348.5" x2="609.5" y2="1483" stroke="#9d9d9d" stroke-width="1" stroke-opacity="0.5"/>
<line x1="668.5" y1="1348.5" x2="668.5" y2="1483" stroke="#9d9d9d" stroke-width="1" stroke-opacity="0.5"/>
<line x1="24.4" y1="1348.5" x2="24.4" y2="1341.5" stroke="#333" stroke-width="1.2"/>
<line x1="24.4" y1="1483" x2="24.4" y2="1489.5" stroke="#333" stroke-width="1.2"/>
<line x1="141.6" y1="1348.5" x2="141.6" y2="1341.5" stroke="#333" stroke-width="1.2"/>
<line x1="141.6" y1="1483" x2="141.6" y2="1489.5" stroke="#333" stroke-width="1.2"/>
<line x1="258.8" y1="1348.5" x2="258.8" y2="1341.5" stroke="#333" stroke-width="1.2"/>
<line x1="258.8" y1="1483" x2="258.8" y2="1489.5" stroke="#333" stroke-width="1.2"/>
<line x1="376" y1="1348.5" x2="376" y2="1341.5" stroke="#333" stroke-width="1.2"/>
<line x1="376" y1="1483" x2="376" y2="1489.5" stroke="#333" stroke-width="1.2"/>
<line x1="493.2" y1="1348.5" x2="493.2" y2="1341.5" stroke="#333" stroke-width="1.2"/>
<line x1="493.2" y1="1483" x2="493.2" y2="1489.5" stroke="#333" stroke-width="1.2"/>
<line x1="610.4" y1="1348.5" x2="610.4" y2="1341.5" stroke="#333" stroke-width="1.2"/>
<line x1="610.4" y1="1483" x2="610.4" y2="1489.5" stroke="#333" stroke-width="1.2"/>
<line x1="727.6" y1="1348.5" x2="727.6" y2="1341.5" stroke="#333" stroke-width="1.2"/>
<line x1="727.6" y1="1483" x2="727.6" y2="1489.5" stroke="#333" stroke-width="1.2"/>
<line x1="24.4" y1="1360.5" x2="10.9" y2="1360.5" stroke="#222" stroke-width="1.2"/>
<line x1="727.6" y1="1360.5" x2="741.1" y2="1360.5" stroke="#222" stroke-width="1.2"/>
<line x1="24.4" y1="1385.2" x2="10.9" y2="1385.2" stroke="#222" stroke-width="1.2"/>
<line x1="727.6" y1="1385.2" x2="741.1" y2="1385.2" stroke="#222" stroke-width="1.2"/>
<line x1="24.4" y1="1409.5" x2="10.9" y2="1409.5" stroke="#222" stroke-width="1.2"/>
<line x1="727.6" y1="1409.5" x2="741.1" y2="1409.5" stroke="#222" stroke-width="1.2"/>
<line x1="24.4" y1="1434" x2="10.9" y2="1434" stroke="#222" stroke-width="1.2"/>
<line x1="727.6" y1="1434" x2="741.1" y2="1434" stroke="#222" stroke-width="1.2"/>
<line x1="24.4" y1="1458.3" x2="10.9" y2="1458.3" stroke="#222" stroke-width="1.2"/>
<line x1="727.6" y1="1458.3" x2="741.1" y2="1458.3" stroke="#222" stroke-width="1.2"/>
<line x1="24.4" y1="1483" x2="10.9" y2="1483" stroke="#222" stroke-width="1.2"/>
<line x1="727.6" y1="1483" x2="741.1" y2="1483" stroke="#222" stroke-width="1.2"/>
<rect x="24.4" y="1348.5" width="703.2" height="134.5" fill="none" stroke="#000" stroke-width="2.1"/>
<rect x="373.7" y="1347.9" width="4.6" height="135.1" fill="#e61f19"/>
<text transform="translate(35.9 1388.1)" x="-2.47" y="0" font-size="39.45" fill="#231815" stroke="#231815" stroke-width="0.43">(e)</text>
<text transform="translate(738.5 1394)" x="-0.88" y="0" font-size="38.95" fill="#000" stroke="#000" stroke-width="0.43">4.0</text>
<text transform="translate(740.7 1441)" x="-2.03" y="0" font-size="40.69" fill="#000" stroke="#000" stroke-width="0.45">2.0</text>
<text transform="translate(749.7 1481.8)" x="-1.72" y="0" font-size="42.93" fill="#000" stroke="#000" stroke-width="0.47">0</text>
<text transform="translate(889.7 1505.4) rotate(-90.00) scale(1 1.07)" x="-3.08" y="0" font-size="37.36" fill="#000" stroke="#000" stroke-width="0.41">Magnitude</text>
<line x1="83.5" y1="1509.7" x2="83.5" y2="1772.7" stroke="#b2b2b2" stroke-width="1"/>
<line x1="141.5" y1="1509.7" x2="141.5" y2="1772.7" stroke="#b2b2b2" stroke-width="1"/>
<line x1="200.5" y1="1509.7" x2="200.5" y2="1772.7" stroke="#b2b2b2" stroke-width="1"/>
<line x1="259.5" y1="1509.7" x2="259.5" y2="1772.7" stroke="#b2b2b2" stroke-width="1"/>
<line x1="317.5" y1="1509.7" x2="317.5" y2="1772.7" stroke="#b2b2b2" stroke-width="1"/>
<line x1="434.5" y1="1509.7" x2="434.5" y2="1772.7" stroke="#b2b2b2" stroke-width="1"/>
<line x1="493.5" y1="1509.7" x2="493.5" y2="1772.7" stroke="#b2b2b2" stroke-width="1"/>
<line x1="552.5" y1="1509.7" x2="552.5" y2="1772.7" stroke="#b2b2b2" stroke-width="1"/>
<line x1="610.5" y1="1509.7" x2="610.5" y2="1772.7" stroke="#b2b2b2" stroke-width="1"/>
<line x1="669.5" y1="1509.7" x2="669.5" y2="1772.7" stroke="#b2b2b2" stroke-width="1"/>
<line x1="26" y1="1772.5" x2="727" y2="1541.5" stroke="#e61f19" stroke-width="1.6" stroke-dasharray="6.7 6"/>
<line x1="26" y1="1773.5" x2="727" y2="1642" stroke="#69b42e" stroke-width="1.6" stroke-dasharray="6.7 6"/>
<line x1="26" y1="1775.5" x2="727" y2="1728" stroke="#18489f" stroke-width="1.6" stroke-dasharray="6.7 6"/>
<polyline points="25.5,1772 28.9,1771.1 30.8,1770.3 32.8,1769.7 35.8,1769.1 37.8,1768.6 39.8,1767.6 41.9,1767.2 44.2,1766.1 47.4,1764.8 50.1,1764.2 54,1763.2 56.5,1762.6 59,1762 62.8,1760.8 66.1,1759.7 68.8,1758.5 70.8,1757.6 73.1,1756.6 75.6,1755.3 78.8,1753.8 82.5,1752.4 86,1751.3 89.1,1750.7 93,1749.4 97.1,1747.8 99.2,1746.8 101.4,1746.4 104.3,1746.3 108,1746 111.2,1745.8 114.6,1745.2 117.9,1744.6 121.7,1744.1 125.7,1743.4 127.7,1743.3 131.2,1742.5 134.9,1741.6 137.4,1741.3 139.3,1741.5 142.2,1741.3 144.1,1739.5 147.8,1736.2 150.5,1734.9 154.4,1732.9 157.5,1731.4 161.4,1729.6 163.9,1727.8 166.7,1726.1 170.8,1724.5 173,1723.5 175.3,1722.4 178.3,1720.7 180.1,1719.7 182.9,1718.1 187,1716.8 190.4,1715.6 193.9,1714.7 195.8,1714.6 199.7,1713.3 203.4,1711.9 205.5,1711.3 208.8,1710.2 211.1,1709.4 213.3,1708.6 215.1,1708 217.2,1707.4 219.1,1706.8 223,1705.2 225.4,1704.2 228,1703.2 231.9,1701.8 236.1,1700.3 238.1,1699.9 240.1,1699.3 243.9,1698.5 246.1,1698.6 249.2,1697.8 251.3,1697.2 254.4,1696.3 258.5,1695.5 260.9,1694.8 263.6,1694.6 266.7,1694.6 270.4,1694 274.1,1693.7 278.3,1689.8 282,1684.7 285.6,1682.4 288.3,1682.3 290.1,1682.1 292.6,1681.7 296,1681.4 300.1,1680.6 304.3,1680.1 306.6,1679.6 308.9,1679.3 312.2,1678.9 316.2,1678.4 319.6,1677.3 323.3,1676.7 327.3,1675.9 330.9,1674.9 333.2,1674.1 336.9,1672.9 341,1672.4 343.7,1671.2 347.3,1670.7 349.5,1670.3 353.5,1668.6 357.2,1667.1 361.3,1665.5 364.7,1663.6 366.8,1662.8 368.7,1662.2 371.7,1660.6 375.8,1658.2 379.6,1656.9 381.9,1656 384.2,1655.3 387.4,1654 389.6,1653.4 393.5,1651.6 396.7,1650.5 400.7,1648.4 403.7,1647.4 406.8,1646.1 409.7,1645 411.9,1644.5 414.1,1643.5 417,1642.3 419.6,1640.9 422.7,1639.2 424.7,1638.3 427.9,1637.2 431.5,1636 434.5,1634.3 438.5,1631.9 441.4,1630.1 444.4,1628.3 447.9,1626.1 450.8,1625.3 454.9,1624 459,1622.3 461.4,1621.2 465.2,1620 467.3,1619.7 469.3,1619.5 471.7,1619.2 475.4,1618.3 479.3,1617.3 482.7,1616.6 484.8,1616.4 487.2,1615.1 491.2,1613.6 495.4,1612.8 499.2,1612.2 502.3,1611.8 504.9,1611.3 508.4,1610.8 510.3,1610.1 512.1,1609.6 514.7,1608.9 516.6,1608.3 520.8,1607.6 522.9,1606.1 525.3,1605.7 527.7,1604.9 529.9,1603.6 533.6,1602.4 536,1601.8 539.2,1601 542.7,1598.6 546.1,1595.7 549,1593.8 552.3,1591.2 556,1590.2 558,1589.6 561.8,1587.3 565,1585.2 569,1582.5 572.1,1580.5 574.4,1579 576.4,1577.8 578.6,1576.1 582.3,1574.8 584.8,1573.7 587.4,1572.8 589.2,1572.2 592.8,1571 595.9,1570.1 600,1569 602,1568.4 605,1567.1 608.8,1565.7 612.3,1564.7 616.4,1563.1 619.9,1562.4 623.2,1561 625.2,1560.5 627.3,1560.2 629.7,1559.5 631.9,1559.1 635.8,1557.9 639.2,1556.6 641.7,1555.9 644.6,1555 647,1554.2 651.1,1553.2 653.5,1552.4 657.6,1551.1 659.4,1550.8 662.2,1549.7 664.4,1549.1 667.4,1548.5 669.5,1547.9 672.2,1547 674.7,1546.1 677.1,1545 680.7,1543.6 684.1,1542.4 686.8,1541 689.4,1540.4 692.9,1539.2 696.3,1538.6 700.2,1537.5 703.5,1536.6 705.7,1535.5 708.7,1534.4 712.5,1533.5 716.2,1532.2 719.7,1531.1 723.1,1528.3 725.3,1526.7 727,1526" fill="none" stroke="#e61f19" stroke-width="2.2" stroke-linejoin="round"/>
<polyline points="25.5,1773 27.6,1773 31.1,1772 35.3,1770.8 37.6,1769.9 40.5,1768.8 43.5,1768.1 45.5,1767.8 47.8,1767.2 50.6,1766.3 54.6,1765 57,1764.4 61.2,1763.3 63.9,1762.5 67.3,1761.1 70.3,1760.4 73.6,1759.4 75.8,1758.5 77.7,1758 80,1757.1 84.1,1755.7 88,1755.2 90.5,1754.8 92.6,1755 96.2,1754.9 99.7,1754.8 103.8,1754.5 106.1,1754 108.2,1753.6 110.2,1753.4 114.2,1752.9 116.5,1752.8 118.9,1752.9 121.3,1752.8 124.1,1752.3 128.1,1752.4 130.3,1752.2 133.7,1752.1 137.8,1751.9 140.3,1752.1 142.2,1751.9 144.4,1751.2 147.2,1750.7 150.1,1750.3 152.9,1749.6 154.9,1749.1 156.9,1748.8 159.6,1748.4 163.3,1747.3 167.5,1746.5 169.4,1746.2 172.2,1745.7 175.3,1745 179.5,1744 181.3,1743.8 185.2,1742.9 187.1,1742.9 191.2,1741.9 194.4,1741.5 197.3,1741.4 199.3,1740.7 202.2,1739.9 204.4,1739.7 207.3,1739.3 209.4,1738.6 212.9,1738.1 215.8,1737.4 218.2,1737.1 220.4,1736.6 224,1736 227.5,1735.3 230.2,1734.8 233,1734.8 236.6,1734.4 239.6,1733.7 242,1733.1 245,1732.5 246.8,1731.9 250.1,1731.6 254.1,1730.7 258.3,1730 261.4,1729.6 265.6,1728.5 269.4,1728.2 272.4,1727.3 276.1,1726.3 278.6,1726 281.3,1725.5 285.4,1724.9 287.9,1724.4 291.2,1724 295.2,1723.1 298.8,1722.6 301.4,1721.9 304.3,1721.2 308.1,1720.7 310.5,1720.6 313,1720.3 315.8,1720.1 318.2,1719.9 320.7,1719.4 323.2,1718.7 327.1,1717.8 331.3,1717.2 335,1716.5 338.7,1715.7 341.9,1715.3 345.6,1714.4 349.3,1713.6 353,1713.2 357.2,1712.8 359.3,1712.2 362.6,1711.6 365.5,1711 369.4,1710.7 371.4,1710.1 374.6,1709.7 377.2,1708.9 379.1,1708.8 382.5,1707.8 385.1,1707.3 388.7,1706.1 391.9,1705.3 394.6,1705 397.2,1704.4 400.7,1703.7 403.3,1703.3 406.1,1702.9 408.9,1702.3 411.2,1701.8 413.7,1701.4 415.8,1701.3 417.7,1700.6 421.5,1699.7 424.6,1698.9 428.2,1698.6 431.2,1697.6 435.4,1696.6 439.4,1696.1 442.2,1695.7 444.4,1695.3 448.3,1694.5 451.5,1693.8 455.6,1692.9 458.7,1692.8 462.2,1691.8 466.4,1690.9 470.2,1690.3 473.3,1689.6 476.2,1689.4 478.3,1689.2 482.4,1688.2 485.5,1687.8 487.8,1687.3 490.9,1686.7 494.3,1685.8 496.4,1685.5 499.1,1685.2 503.1,1684.5 506.4,1684.3 508.6,1684 510.8,1683.6 514,1683.6 516.8,1683.5 520.1,1683.1 524.3,1682.4 526.2,1681.8 530.4,1681 533,1680.9 536,1680.4 538.2,1679.1 540.8,1677.7 543.5,1676 546.8,1673.7 548.7,1672.8 552.7,1670.6 555.2,1669.6 557.9,1668.5 560.6,1667.4 563.9,1666.8 567.6,1666.3 570.8,1665.5 573.2,1665.2 577.1,1664.5 580,1664 583.3,1663.4 585.9,1662.7 588.6,1662.3 591.9,1661.7 594.6,1661.5 597.7,1661.1 599.8,1660.8 603.6,1660.6 607.2,1660.3 609.6,1659.8 613.5,1657.9 615.7,1656.4 619.3,1654 621.6,1652.2 625.1,1652 628.7,1651.1 630.5,1650.7 634.3,1649.9 637.1,1649.9 641.1,1649.8 643.1,1649.4 646.1,1648.3 649.6,1647.8 653.8,1647.3 656,1646.9 658.1,1646.4 661.5,1645.4 664.1,1644.8 666.5,1644.4 670,1644 672,1643.9 674.9,1643.7 677.7,1643.3 681.2,1643.1 684.4,1643 687.2,1642.9 690.7,1642.8 692.9,1642.7 696.8,1642 700.5,1641.3 703,1641.1 706.4,1640.9 709.4,1640.7 713.3,1640.2 717.2,1639.4 721.3,1636.3 723.5,1633.7" fill="none" stroke="#69b42e" stroke-width="2.2" stroke-linejoin="round"/>
<polyline points="25.5,1773 27.6,1772.8 31.5,1772.7 35.5,1772.4 37.5,1772 39.4,1771.8 42.1,1771.6 45.6,1771.2 47.8,1771.1 50.8,1771 54.8,1770.6 57.5,1770.3 61.1,1770.2 64.5,1770.1 68.1,1769.8 70.5,1769.7 72.8,1769.5 75.1,1769.6 79,1769.3 81.7,1769.1 84.7,1769 88.7,1768.7 90.8,1768.5 94,1768.2 97.9,1767.9 99.9,1767.8 103,1767.6 106,1767.4 110,1767 113.3,1766.8 115.4,1766.6 118.6,1766.3 122.7,1766.2 126,1766.1 128.1,1765.8 132.3,1766 134.4,1765.7 136.8,1765.1 140.1,1765 143.5,1764.9 146.7,1764.7 149.3,1764.6 153.2,1764.3 156,1764.1 160.1,1764 163.9,1763.9 166.4,1763.7 169.3,1763.7 171.9,1763.8 173.9,1763.8 177.6,1763.9 181.4,1763.8 184.4,1763.6 187.9,1763.3 190.7,1763.2 193.5,1763.5 196.2,1763.4 199.6,1763.1 201.8,1762.9 203.7,1762.6 207.9,1762.4 212,1762.3 215.3,1762 217.6,1761.8 220.3,1761.2 223,1760.7 225.1,1760.4 227.1,1760.3 230.3,1760 233.1,1759.8 236.6,1759.5 240.6,1759.1 242.8,1758.9 246.7,1758.3 249.7,1758.2 252.7,1758 255,1757.8 258.6,1757.5 261,1757.4 263.9,1757 267,1756.5 270,1756.2 274,1755.4 275.9,1755.1 280.1,1754.8 283.1,1754.3 286.2,1754.1 289.6,1753.9 292.7,1753.7 296.2,1753.7 298.2,1753.5 301.2,1753.2 304.5,1753.2 307.2,1753.1 311.2,1752.9 314.7,1752.9 318,1752.7 321.2,1752.5 324.5,1752.3 326.5,1752.1 328.7,1751.9 330.7,1751.8 333.3,1751.6 335.2,1751.6 338.9,1751.4 340.7,1751.6 344.8,1751.1 348.9,1750.8 352.7,1750.9 355.1,1750.9 358.8,1750.9 360.8,1750.9 362.9,1751.2 365.6,1750.9 369.2,1750.6 371.9,1750.5 375.2,1750.4 378.2,1750.5 380.5,1750.1 382.4,1750.2 384.4,1750.2 386.8,1750.1 390.7,1749.9 392.6,1749.8 395.1,1749.6 399.2,1749.6 402.9,1749.6 406.8,1749.2 410.8,1749 413.4,1748.8 415.8,1748.5 418.4,1748.2 422.2,1747.9 424.7,1747.9 427.6,1747.5 430.4,1747.3 432.7,1747.1 434.9,1747.1 438,1746.9 441.4,1746.8 443.5,1746.5 446.4,1746.2 449.6,1745.9 453.2,1745.3 455.5,1745 457.3,1744.8 460.5,1744.3 463,1744.2 466.8,1743.9 470.4,1743.6 472.9,1743.4 474.7,1743.3 478.7,1743.1 480.9,1742.9 482.9,1743 486.3,1742.2 489,1741.1 491.1,1740.1 494.6,1739 497.2,1739.1 499.9,1739.1 503.8,1739.1 506.9,1739.2 508.8,1739 511.7,1739 515.7,1738.6 519.3,1738.4 522.2,1738.4 525.6,1738.2 529.2,1738.2 531.9,1737.9 535.9,1737.6 537.8,1737.6 541.2,1737.4 543.2,1736.8 546.3,1735.8 550.3,1734.4 553.7,1733.6 556.5,1733.5 560.6,1732.4 564.1,1732.1 567.8,1731.8 570.6,1731.4 574.7,1731.2 577.8,1731.3 579.8,1730.9 582.5,1730.9 586.6,1730.4 588.9,1729.9 592,1729.6 595.4,1729.5 597.3,1729.4 601.2,1729 605,1728.7 607.4,1728.7 609.3,1728.6 612.1,1728.1 616.2,1726.3 618.1,1725.6 621.3,1724.4 623.6,1723.4 626.8,1722.7 630.6,1722.6 632.8,1722.2 635.5,1722.3 638,1722.2 640.9,1722.2 644.2,1722.3 646.3,1722.4 648.7,1722.2 651.9,1722.1 653.8,1722 656.1,1722 658.6,1721.9 662.4,1721.7 665.4,1721.5 667.5,1721.3 669.7,1721.3 673,1721.2 676.3,1720.9 678.9,1720.8 680.8,1720.6 684.4,1720.3 686.2,1720.2 690,1719.9 693.2,1719.6 696.7,1719.6 700.2,1719.4 704.2,1719.3 707.2,1719.2 711.1,1718.7 715,1718.6 717.7,1718.1 719.5,1717.9 723.5,1714.6" fill="none" stroke="#18489f" stroke-width="2.2" stroke-linejoin="round"/>
<line x1="63.8" y1="1509.7" x2="63.8" y2="1507.2" stroke="#111" stroke-width="1.2"/>
<line x1="63.8" y1="1772.7" x2="63.8" y2="1775.7" stroke="#111" stroke-width="1.2"/>
<line x1="102.8" y1="1509.7" x2="102.8" y2="1507.2" stroke="#111" stroke-width="1.2"/>
<line x1="102.8" y1="1772.7" x2="102.8" y2="1775.7" stroke="#111" stroke-width="1.2"/>
<line x1="180.9" y1="1509.7" x2="180.9" y2="1507.2" stroke="#111" stroke-width="1.2"/>
<line x1="180.9" y1="1772.7" x2="180.9" y2="1775.7" stroke="#111" stroke-width="1.2"/>
<line x1="220" y1="1509.7" x2="220" y2="1507.2" stroke="#111" stroke-width="1.2"/>
<line x1="220" y1="1772.7" x2="220" y2="1775.7" stroke="#111" stroke-width="1.2"/>
<line x1="298.1" y1="1509.7" x2="298.1" y2="1507.2" stroke="#111" stroke-width="1.2"/>
<line x1="298.1" y1="1772.7" x2="298.1" y2="1775.7" stroke="#111" stroke-width="1.2"/>
<line x1="337.2" y1="1509.7" x2="337.2" y2="1507.2" stroke="#111" stroke-width="1.2"/>
<line x1="337.2" y1="1772.7" x2="337.2" y2="1775.7" stroke="#111" stroke-width="1.2"/>
<line x1="415.3" y1="1509.7" x2="415.3" y2="1507.2" stroke="#111" stroke-width="1.2"/>
<line x1="415.3" y1="1772.7" x2="415.3" y2="1775.7" stroke="#111" stroke-width="1.2"/>
<line x1="454.4" y1="1509.7" x2="454.4" y2="1507.2" stroke="#111" stroke-width="1.2"/>
<line x1="454.4" y1="1772.7" x2="454.4" y2="1775.7" stroke="#111" stroke-width="1.2"/>
<line x1="532.5" y1="1509.7" x2="532.5" y2="1507.2" stroke="#111" stroke-width="1.2"/>
<line x1="532.5" y1="1772.7" x2="532.5" y2="1775.7" stroke="#111" stroke-width="1.2"/>
<line x1="571.6" y1="1509.7" x2="571.6" y2="1507.2" stroke="#111" stroke-width="1.2"/>
<line x1="571.6" y1="1772.7" x2="571.6" y2="1775.7" stroke="#111" stroke-width="1.2"/>
<line x1="649.7" y1="1509.7" x2="649.7" y2="1507.2" stroke="#111" stroke-width="1.2"/>
<line x1="649.7" y1="1772.7" x2="649.7" y2="1775.7" stroke="#111" stroke-width="1.2"/>
<line x1="688.7" y1="1509.7" x2="688.7" y2="1507.2" stroke="#111" stroke-width="1.2"/>
<line x1="688.7" y1="1772.7" x2="688.7" y2="1775.7" stroke="#111" stroke-width="1.2"/>
<line x1="24.7" y1="1509.7" x2="24.7" y2="1504.7" stroke="#111" stroke-width="1.3"/>
<line x1="24.7" y1="1772.7" x2="24.7" y2="1781.2" stroke="#111" stroke-width="1.3"/>
<line x1="141.9" y1="1509.7" x2="141.9" y2="1504.7" stroke="#111" stroke-width="1.3"/>
<line x1="141.9" y1="1772.7" x2="141.9" y2="1781.2" stroke="#111" stroke-width="1.3"/>
<line x1="259.1" y1="1509.7" x2="259.1" y2="1504.7" stroke="#111" stroke-width="1.3"/>
<line x1="259.1" y1="1772.7" x2="259.1" y2="1781.2" stroke="#111" stroke-width="1.3"/>
<line x1="376.2" y1="1509.7" x2="376.2" y2="1504.7" stroke="#111" stroke-width="1.3"/>
<line x1="376.2" y1="1772.7" x2="376.2" y2="1781.2" stroke="#111" stroke-width="1.3"/>
<line x1="493.4" y1="1509.7" x2="493.4" y2="1504.7" stroke="#111" stroke-width="1.3"/>
<line x1="493.4" y1="1772.7" x2="493.4" y2="1781.2" stroke="#111" stroke-width="1.3"/>
<line x1="610.6" y1="1509.7" x2="610.6" y2="1504.7" stroke="#111" stroke-width="1.3"/>
<line x1="610.6" y1="1772.7" x2="610.6" y2="1781.2" stroke="#111" stroke-width="1.3"/>
<line x1="727.8" y1="1509.7" x2="727.8" y2="1504.7" stroke="#111" stroke-width="1.3"/>
<line x1="727.8" y1="1772.7" x2="727.8" y2="1781.2" stroke="#111" stroke-width="1.3"/>
<line x1="24.7" y1="1509.7" x2="10.7" y2="1509.7" stroke="#111" stroke-width="1.3"/>
<line x1="727.8" y1="1509.7" x2="741.8" y2="1509.7" stroke="#111" stroke-width="1.3"/>
<line x1="24.7" y1="1575.4" x2="10.7" y2="1575.4" stroke="#111" stroke-width="1.3"/>
<line x1="727.8" y1="1575.4" x2="741.8" y2="1575.4" stroke="#111" stroke-width="1.3"/>
<line x1="24.7" y1="1641.5" x2="10.7" y2="1641.5" stroke="#111" stroke-width="1.3"/>
<line x1="727.8" y1="1641.5" x2="741.8" y2="1641.5" stroke="#111" stroke-width="1.3"/>
<line x1="24.7" y1="1706.8" x2="10.7" y2="1706.8" stroke="#111" stroke-width="1.3"/>
<line x1="727.8" y1="1706.8" x2="741.8" y2="1706.8" stroke="#111" stroke-width="1.3"/>
<line x1="24.7" y1="1772.7" x2="10.7" y2="1772.7" stroke="#111" stroke-width="1.3"/>
<line x1="727.8" y1="1772.7" x2="741.8" y2="1772.7" stroke="#111" stroke-width="1.3"/>
<rect x="24.7" y="1509.7" width="703.1" height="263" fill="none" stroke="#000" stroke-width="2.5"/>
<rect x="372.9" y="1509.1" width="6.8" height="263.6" fill="#ff0000"/>
<text transform="translate(37.8 1554.2)" x="-2.58" y="0" font-size="41.34" fill="#000" stroke="#000" stroke-width="0.45">(f)</text>
<text transform="translate(52.8 1617.6)" x="-3.66" y="0" font-size="39.58" fill="#000" stroke="#000" stroke-width="0.44">Interplate</text>
<text transform="translate(51.4 1664.6)" x="-1.68" y="0" font-size="39.43" fill="#000" stroke="#000" stroke-width="0.43">cluster events</text>
<text transform="translate(400 1614.5) rotate(-8.50)" x="-3.22" y="0" font-size="39.02" fill="#e61f19" stroke="#e61f19" stroke-width="0.43">M&gt;=0.5</text>
<text transform="translate(421.1 1680.6) rotate(-9.50)" x="-3.18" y="0" font-size="38.53" fill="#69b42e" stroke="#69b42e" stroke-width="0.42">M&gt;=0.7</text>
<text transform="translate(405.1 1731.4)" x="-3.26" y="0" font-size="39.51" fill="#18489f" stroke="#18489f" stroke-width="0.43">M&gt;=1.0</text>
<text transform="translate(738.4 1584.6)" x="-2.93" y="0" font-size="39.10" fill="#000" stroke="#000" stroke-width="0.43">150</text>
<text transform="translate(738.4 1649.7)" x="-2.93" y="0" font-size="39.10" fill="#000" stroke="#000" stroke-width="0.43">100</text>
<text transform="translate(751 1716.5)" x="-1.62" y="0" font-size="40.39" fill="#000" stroke="#000" stroke-width="0.44">50</text>
<text transform="translate(759 1778.6)" x="-1.68" y="0" font-size="41.88" fill="#000" stroke="#000" stroke-width="0.46">0</text>
<text transform="translate(842 1771) rotate(-90.00) scale(1 1.07)" x="-1.97" y="0" font-size="39.37" fill="#000" stroke="#000" stroke-width="0.43">Cum. num.</text>
<text transform="translate(889 1771) rotate(-90.00) scale(1 1.07)" x="-1.67" y="0" font-size="39.23" fill="#000" stroke="#000" stroke-width="0.43">earthquakes</text>
<text transform="translate(0.6 1826)" x="-2.07" y="0" font-size="46.00" fill="#231815" stroke="#231815" stroke-width="0.51">-3</text>
<text transform="translate(121.4 1826)" x="-2.07" y="0" font-size="46.00" fill="#231815" stroke="#231815" stroke-width="0.51">-2</text>
<text transform="translate(241.8 1826)" x="-2.07" y="0" font-size="46.00" fill="#231815" stroke="#231815" stroke-width="0.51">-1</text>
<text transform="translate(366 1826)" x="-1.84" y="0" font-size="46.00" fill="#231815" stroke="#231815" stroke-width="0.51">0</text>
<text transform="translate(482.9 1826)" x="-3.45" y="0" font-size="46.00" fill="#231815" stroke="#231815" stroke-width="0.51">1</text>
<text transform="translate(593.6 1826)" x="-2.30" y="0" font-size="46.00" fill="#231815" stroke="#231815" stroke-width="0.51">2</text>
<text transform="translate(713.9 1826)" x="-1.72" y="0" font-size="46.00" fill="#231815" stroke="#231815" stroke-width="0.51">3</text>
<text transform="translate(55.1 1879)" x="-4.18" y="0" font-size="50.67" fill="#000" stroke="#000" stroke-width="0.56">Months relative to SST times</text>
</svg>
</body></html>
